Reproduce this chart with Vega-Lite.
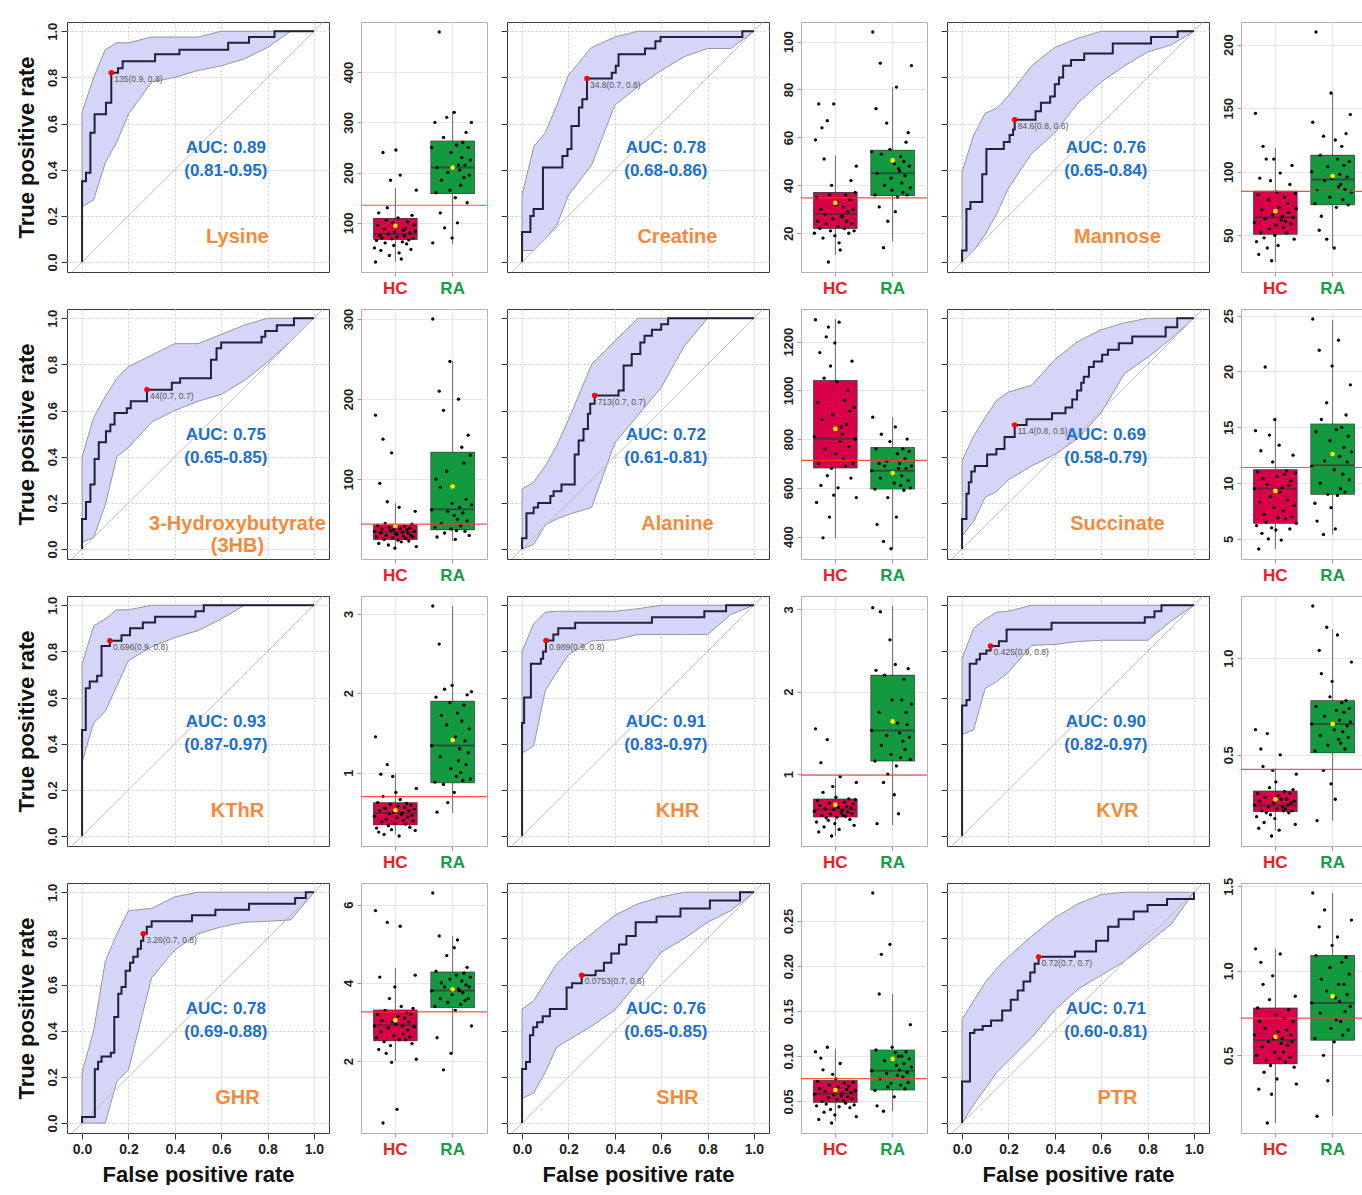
{
"$schema":"https://vega.github.io/schema/vega-lite/v6.json",
"padding":{"left":15,"top":21,"right":0,"bottom":0},
"background":"white",
"config":{"font":"Liberation Sans","view":{"stroke":"#444"},"axis":{"labelFont":"Liberation Sans","titleFont":"Liberation Sans","domain":false},"text":{"font":"Liberation Sans"}},
"spacing":11,
"data":{"values":[
{"p":1,"x":0,"y":0},{"p":1,"x":0,"y":0.35},{"p":1,"x":0.017,"y":0.387},{"p":1,"x":0.036,"y":0.56},{"p":1,"x":0.054,"y":0.64},{"p":1,"x":0.103,"y":0.69},{"p":1,"x":0.126,"y":0.82},{"p":1,"x":0.155,"y":0.84},{"p":1,"x":0.175,"y":0.87},{"p":1,"x":0.315,"y":0.9},{"p":1,"x":0.42,"y":0.92},{"p":1,"x":0.63,"y":0.95},{"p":1,"x":0.72,"y":0.975},{"p":1,"x":0.83,"y":1},{"p":1,"x":1,"y":1},
{"p":2,"x":0,"y":0},{"p":2,"x":0,"y":0.13},{"p":2,"x":0.036,"y":0.2},{"p":2,"x":0.05,"y":0.23},{"p":2,"x":0.09,"y":0.41},{"p":2,"x":0.174,"y":0.46},{"p":2,"x":0.196,"y":0.49},{"p":2,"x":0.213,"y":0.59},{"p":2,"x":0.245,"y":0.67},{"p":2,"x":0.26,"y":0.705},{"p":2,"x":0.28,"y":0.795},{"p":2,"x":0.387,"y":0.82},{"p":2,"x":0.404,"y":0.85},{"p":2,"x":0.416,"y":0.9},{"p":2,"x":0.53,"y":0.925},{"p":2,"x":0.575,"y":0.957},{"p":2,"x":0.597,"y":0.975},{"p":2,"x":0.95,"y":1},{"p":2,"x":1,"y":1},
{"p":3,"x":0,"y":0},{"p":3,"x":0,"y":0.05},{"p":3,"x":0.019,"y":0.23},{"p":3,"x":0.036,"y":0.26},{"p":3,"x":0.087,"y":0.38},{"p":3,"x":0.105,"y":0.49},{"p":3,"x":0.18,"y":0.52},{"p":3,"x":0.205,"y":0.55},{"p":3,"x":0.22,"y":0.574},{"p":3,"x":0.227,"y":0.617},{"p":3,"x":0.317,"y":0.653},{"p":3,"x":0.34,"y":0.69},{"p":3,"x":0.38,"y":0.717},{"p":3,"x":0.4,"y":0.77},{"p":3,"x":0.418,"y":0.8},{"p":3,"x":0.436,"y":0.85},{"p":3,"x":0.47,"y":0.875},{"p":3,"x":0.527,"y":0.904},{"p":3,"x":0.65,"y":0.947},{"p":3,"x":0.815,"y":0.975},{"p":3,"x":0.93,"y":1},{"p":3,"x":1,"y":1},
{"p":4,"x":0,"y":0},{"p":4,"x":0,"y":0.13},{"p":4,"x":0.017,"y":0.204},{"p":4,"x":0.036,"y":0.28},{"p":4,"x":0.054,"y":0.39},{"p":4,"x":0.072,"y":0.463},{"p":4,"x":0.103,"y":0.51},{"p":4,"x":0.122,"y":0.54},{"p":4,"x":0.14,"y":0.59},{"p":4,"x":0.193,"y":0.61},{"p":4,"x":0.21,"y":0.64},{"p":4,"x":0.28,"y":0.69},{"p":4,"x":0.387,"y":0.72},{"p":4,"x":0.423,"y":0.74},{"p":4,"x":0.556,"y":0.82},{"p":4,"x":0.58,"y":0.87},{"p":4,"x":0.6,"y":0.895},{"p":4,"x":0.774,"y":0.92},{"p":4,"x":0.79,"y":0.945},{"p":4,"x":0.84,"y":0.97},{"p":4,"x":0.914,"y":1},{"p":4,"x":1,"y":1},
{"p":5,"x":0,"y":0},{"p":5,"x":0,"y":0.047},{"p":5,"x":0.019,"y":0.155},{"p":5,"x":0.05,"y":0.18},{"p":5,"x":0.069,"y":0.2},{"p":5,"x":0.122,"y":0.23},{"p":5,"x":0.136,"y":0.25},{"p":5,"x":0.17,"y":0.28},{"p":5,"x":0.227,"y":0.41},{"p":5,"x":0.244,"y":0.47},{"p":5,"x":0.265,"y":0.52},{"p":5,"x":0.284,"y":0.586},{"p":5,"x":0.294,"y":0.63},{"p":5,"x":0.313,"y":0.665},{"p":5,"x":0.416,"y":0.687},{"p":5,"x":0.438,"y":0.795},{"p":5,"x":0.473,"y":0.845},{"p":5,"x":0.51,"y":0.895},{"p":5,"x":0.528,"y":0.924},{"p":5,"x":0.56,"y":0.95},{"p":5,"x":0.6,"y":0.974},{"p":5,"x":0.63,"y":1},{"p":5,"x":1,"y":1},
{"p":6,"x":0,"y":0},{"p":6,"x":0,"y":0.13},{"p":6,"x":0.019,"y":0.24},{"p":6,"x":0.029,"y":0.29},{"p":6,"x":0.04,"y":0.336},{"p":6,"x":0.055,"y":0.36},{"p":6,"x":0.108,"y":0.41},{"p":6,"x":0.148,"y":0.433},{"p":6,"x":0.183,"y":0.486},{"p":6,"x":0.227,"y":0.538},{"p":6,"x":0.278,"y":0.562},{"p":6,"x":0.388,"y":0.588},{"p":6,"x":0.446,"y":0.613},{"p":6,"x":0.475,"y":0.648},{"p":6,"x":0.496,"y":0.687},{"p":6,"x":0.514,"y":0.72},{"p":6,"x":0.525,"y":0.746},{"p":6,"x":0.547,"y":0.789},{"p":6,"x":0.568,"y":0.813},{"p":6,"x":0.604,"y":0.842},{"p":6,"x":0.629,"y":0.864},{"p":6,"x":0.676,"y":0.892},{"p":6,"x":0.734,"y":0.921},{"p":6,"x":0.878,"y":0.961},{"p":6,"x":0.928,"y":1},{"p":6,"x":1,"y":1},
{"p":7,"x":0,"y":0},{"p":7,"x":0,"y":0.46},{"p":7,"x":0.016,"y":0.64},{"p":7,"x":0.033,"y":0.67},{"p":7,"x":0.065,"y":0.694},{"p":7,"x":0.084,"y":0.823},{"p":7,"x":0.12,"y":0.846},{"p":7,"x":0.17,"y":0.87},{"p":7,"x":0.207,"y":0.9},{"p":7,"x":0.262,"y":0.925},{"p":7,"x":0.315,"y":0.95},{"p":7,"x":0.489,"y":0.974},{"p":7,"x":0.525,"y":1},{"p":7,"x":1,"y":1},
{"p":8,"x":0,"y":0},{"p":8,"x":0,"y":0.49},{"p":8,"x":0.009,"y":0.6},{"p":8,"x":0.038,"y":0.746},{"p":8,"x":0.081,"y":0.768},{"p":8,"x":0.091,"y":0.8},{"p":8,"x":0.103,"y":0.847},{"p":8,"x":0.135,"y":0.873},{"p":8,"x":0.156,"y":0.9},{"p":8,"x":0.229,"y":0.924},{"p":8,"x":0.56,"y":0.948},{"p":8,"x":0.786,"y":0.974},{"p":8,"x":0.88,"y":1},{"p":8,"x":1,"y":1},
{"p":9,"x":0,"y":0},{"p":9,"x":0,"y":0.566},{"p":9,"x":0.019,"y":0.59},{"p":9,"x":0.033,"y":0.746},{"p":9,"x":0.062,"y":0.765},{"p":9,"x":0.077,"y":0.79},{"p":9,"x":0.105,"y":0.804},{"p":9,"x":0.123,"y":0.823},{"p":9,"x":0.159,"y":0.844},{"p":9,"x":0.192,"y":0.895},{"p":9,"x":0.386,"y":0.924},{"p":9,"x":0.788,"y":0.948},{"p":9,"x":0.83,"y":0.974},{"p":9,"x":0.86,"y":1},{"p":9,"x":1,"y":1},
{"p":10,"x":0,"y":0},{"p":10,"x":0,"y":0.026},{"p":10,"x":0.055,"y":0.233},{"p":10,"x":0.069,"y":0.266},{"p":10,"x":0.084,"y":0.288},{"p":10,"x":0.124,"y":0.305},{"p":10,"x":0.139,"y":0.46},{"p":10,"x":0.156,"y":0.56},{"p":10,"x":0.17,"y":0.59},{"p":10,"x":0.188,"y":0.66},{"p":10,"x":0.207,"y":0.694},{"p":10,"x":0.221,"y":0.72},{"p":10,"x":0.24,"y":0.755},{"p":10,"x":0.254,"y":0.79},{"p":10,"x":0.264,"y":0.82},{"p":10,"x":0.279,"y":0.85},{"p":10,"x":0.3,"y":0.874},{"p":10,"x":0.474,"y":0.9},{"p":10,"x":0.575,"y":0.924},{"p":10,"x":0.72,"y":0.95},{"p":10,"x":0.919,"y":0.975},{"p":10,"x":0.965,"y":1},{"p":10,"x":1,"y":1},
{"p":11,"x":0,"y":0},{"p":11,"x":0,"y":0.234},{"p":11,"x":0.017,"y":0.265},{"p":11,"x":0.034,"y":0.38},{"p":11,"x":0.048,"y":0.415},{"p":11,"x":0.065,"y":0.437},{"p":11,"x":0.089,"y":0.463},{"p":11,"x":0.12,"y":0.494},{"p":11,"x":0.192,"y":0.587},{"p":11,"x":0.216,"y":0.606},{"p":11,"x":0.257,"y":0.64},{"p":11,"x":0.317,"y":0.66},{"p":11,"x":0.353,"y":0.695},{"p":11,"x":0.385,"y":0.735},{"p":11,"x":0.418,"y":0.774},{"p":11,"x":0.45,"y":0.81},{"p":11,"x":0.49,"y":0.87},{"p":11,"x":0.58,"y":0.895},{"p":11,"x":0.683,"y":0.93},{"p":11,"x":0.81,"y":0.964},{"p":11,"x":0.94,"y":1},{"p":11,"x":1,"y":1},
{"p":12,"x":0,"y":0},{"p":12,"x":0,"y":0.18},{"p":12,"x":0.034,"y":0.39},{"p":12,"x":0.053,"y":0.404},{"p":12,"x":0.089,"y":0.42},{"p":12,"x":0.125,"y":0.444},{"p":12,"x":0.173,"y":0.488},{"p":12,"x":0.21,"y":0.534},{"p":12,"x":0.24,"y":0.574},{"p":12,"x":0.265,"y":0.613},{"p":12,"x":0.294,"y":0.652},{"p":12,"x":0.313,"y":0.69},{"p":12,"x":0.33,"y":0.72},{"p":12,"x":0.487,"y":0.743},{"p":12,"x":0.578,"y":0.79},{"p":12,"x":0.63,"y":0.85},{"p":12,"x":0.675,"y":0.883},{"p":12,"x":0.74,"y":0.916},{"p":12,"x":0.8,"y":0.945},{"p":12,"x":0.884,"y":0.971},{"p":12,"x":1,"y":1},
{"p":1,"x":0,"lo":0.24,"hi":0.65},{"p":1,"x":0.05,"lo":0.27,"hi":0.8},{"p":1,"x":0.1,"lo":0.43,"hi":0.92},{"p":1,"x":0.15,"lo":0.52,"hi":0.95},{"p":1,"x":0.2,"lo":0.64,"hi":0.95},{"p":1,"x":0.3,"lo":0.78,"hi":0.975},{"p":1,"x":0.4,"lo":0.8,"hi":0.975},{"p":1,"x":0.5,"lo":0.83,"hi":0.975},{"p":1,"x":0.6,"lo":0.85,"hi":1},{"p":1,"x":0.7,"lo":0.88,"hi":1},{"p":1,"x":0.8,"lo":0.93,"hi":1},{"p":1,"x":0.9,"lo":1,"hi":1},{"p":1,"x":1,"lo":1,"hi":1},
{"p":2,"x":0,"lo":0.05,"hi":0.29},{"p":2,"x":0.05,"lo":0.05,"hi":0.5},{"p":2,"x":0.1,"lo":0.1,"hi":0.56},{"p":2,"x":0.15,"lo":0.16,"hi":0.68},{"p":2,"x":0.2,"lo":0.29,"hi":0.81},{"p":2,"x":0.3,"lo":0.42,"hi":0.93},{"p":2,"x":0.4,"lo":0.68,"hi":0.975},{"p":2,"x":0.5,"lo":0.76,"hi":1},{"p":2,"x":0.6,"lo":0.83,"hi":1},{"p":2,"x":0.7,"lo":0.89,"hi":1},{"p":2,"x":0.8,"lo":0.925,"hi":1},{"p":2,"x":0.9,"lo":0.925,"hi":1},{"p":2,"x":1,"lo":1,"hi":1},
{"p":3,"x":0,"lo":0,"hi":0.39},{"p":3,"x":0.05,"lo":0.05,"hi":0.55},{"p":3,"x":0.1,"lo":0.12,"hi":0.645},{"p":3,"x":0.15,"lo":0.21,"hi":0.667},{"p":3,"x":0.2,"lo":0.32,"hi":0.72},{"p":3,"x":0.3,"lo":0.47,"hi":0.85},{"p":3,"x":0.4,"lo":0.56,"hi":0.93},{"p":3,"x":0.5,"lo":0.69,"hi":0.97},{"p":3,"x":0.6,"lo":0.78,"hi":1},{"p":3,"x":0.7,"lo":0.85,"hi":1},{"p":3,"x":0.8,"lo":0.91,"hi":1},{"p":3,"x":0.9,"lo":0.94,"hi":1},{"p":3,"x":1,"lo":1,"hi":1},
{"p":4,"x":0,"lo":0.03,"hi":0.4},{"p":4,"x":0.05,"lo":0.05,"hi":0.57},{"p":4,"x":0.1,"lo":0.19,"hi":0.66},{"p":4,"x":0.15,"lo":0.4,"hi":0.74},{"p":4,"x":0.2,"lo":0.44,"hi":0.79},{"p":4,"x":0.3,"lo":0.55,"hi":0.84},{"p":4,"x":0.4,"lo":0.6,"hi":0.89},{"p":4,"x":0.5,"lo":0.64,"hi":0.89},{"p":4,"x":0.6,"lo":0.67,"hi":0.93},{"p":4,"x":0.7,"lo":0.73,"hi":0.97},{"p":4,"x":0.8,"lo":0.81,"hi":1},{"p":4,"x":0.9,"lo":0.9,"hi":1},{"p":4,"x":1,"lo":1,"hi":1},
{"p":5,"x":0,"lo":0,"hi":0.26},{"p":5,"x":0.05,"lo":0.02,"hi":0.29},{"p":5,"x":0.1,"lo":0.105,"hi":0.36},{"p":5,"x":0.15,"lo":0.13,"hi":0.45},{"p":5,"x":0.2,"lo":0.15,"hi":0.56},{"p":5,"x":0.3,"lo":0.18,"hi":0.8},{"p":5,"x":0.4,"lo":0.46,"hi":0.9},{"p":5,"x":0.5,"lo":0.58,"hi":1},{"p":5,"x":0.6,"lo":0.7,"hi":1},{"p":5,"x":0.7,"lo":0.88,"hi":1},{"p":5,"x":0.8,"lo":1,"hi":1},{"p":5,"x":0.9,"lo":1,"hi":1},{"p":5,"x":1,"lo":1,"hi":1},
{"p":6,"x":0,"lo":0.057,"hi":0.383},{"p":6,"x":0.05,"lo":0.12,"hi":0.49},{"p":6,"x":0.1,"lo":0.225,"hi":0.57},{"p":6,"x":0.15,"lo":0.25,"hi":0.645},{"p":6,"x":0.2,"lo":0.3,"hi":0.68},{"p":6,"x":0.3,"lo":0.36,"hi":0.71},{"p":6,"x":0.4,"lo":0.41,"hi":0.82},{"p":6,"x":0.5,"lo":0.48,"hi":0.9},{"p":6,"x":0.6,"lo":0.59,"hi":0.95},{"p":6,"x":0.7,"lo":0.76,"hi":0.98},{"p":6,"x":0.8,"lo":0.83,"hi":1},{"p":6,"x":0.9,"lo":0.91,"hi":1},{"p":6,"x":1,"lo":1,"hi":1},
{"p":7,"x":0,"lo":0.32,"hi":0.745},{"p":7,"x":0.05,"lo":0.49,"hi":0.91},{"p":7,"x":0.1,"lo":0.54,"hi":0.94},{"p":7,"x":0.15,"lo":0.65,"hi":0.98},{"p":7,"x":0.2,"lo":0.76,"hi":0.98},{"p":7,"x":0.3,"lo":0.82,"hi":1},{"p":7,"x":0.4,"lo":0.86,"hi":1},{"p":7,"x":0.5,"lo":0.89,"hi":1},{"p":7,"x":0.6,"lo":0.94,"hi":1},{"p":7,"x":0.7,"lo":1,"hi":1},{"p":7,"x":0.8,"lo":1,"hi":1},{"p":7,"x":0.9,"lo":1,"hi":1},{"p":7,"x":1,"lo":1,"hi":1},
{"p":8,"x":0,"lo":0.36,"hi":0.8},{"p":8,"x":0.05,"lo":0.39,"hi":0.92},{"p":8,"x":0.1,"lo":0.63,"hi":0.97},{"p":8,"x":0.15,"lo":0.71,"hi":0.974},{"p":8,"x":0.2,"lo":0.786,"hi":0.974},{"p":8,"x":0.3,"lo":0.845,"hi":0.974},{"p":8,"x":0.4,"lo":0.85,"hi":0.974},{"p":8,"x":0.5,"lo":0.873,"hi":0.985},{"p":8,"x":0.6,"lo":0.873,"hi":1},{"p":8,"x":0.7,"lo":0.873,"hi":1},{"p":8,"x":0.8,"lo":0.873,"hi":1},{"p":8,"x":0.9,"lo":0.96,"hi":1},{"p":8,"x":1,"lo":1,"hi":1},
{"p":9,"x":0,"lo":0.44,"hi":0.77},{"p":9,"x":0.05,"lo":0.46,"hi":0.9},{"p":9,"x":0.1,"lo":0.64,"hi":0.94},{"p":9,"x":0.15,"lo":0.67,"hi":0.97},{"p":9,"x":0.2,"lo":0.71,"hi":0.974},{"p":9,"x":0.3,"lo":0.826,"hi":1},{"p":9,"x":0.4,"lo":0.83,"hi":1},{"p":9,"x":0.5,"lo":0.843,"hi":1},{"p":9,"x":0.6,"lo":0.848,"hi":1},{"p":9,"x":0.7,"lo":0.848,"hi":1},{"p":9,"x":0.8,"lo":0.848,"hi":1},{"p":9,"x":0.9,"lo":0.93,"hi":1},{"p":9,"x":1,"lo":1,"hi":1},
{"p":10,"x":0,"lo":0,"hi":0.22},{"p":10,"x":0.05,"lo":0,"hi":0.4},{"p":10,"x":0.1,"lo":0,"hi":0.7},{"p":10,"x":0.15,"lo":0.18,"hi":0.82},{"p":10,"x":0.2,"lo":0.23,"hi":0.92},{"p":10,"x":0.3,"lo":0.63,"hi":0.93},{"p":10,"x":0.4,"lo":0.75,"hi":0.98},{"p":10,"x":0.5,"lo":0.82,"hi":1},{"p":10,"x":0.6,"lo":0.85,"hi":1},{"p":10,"x":0.7,"lo":0.87,"hi":1},{"p":10,"x":0.8,"lo":0.874,"hi":1},{"p":10,"x":0.9,"lo":0.88,"hi":1},{"p":10,"x":1,"lo":1,"hi":1},
{"p":11,"x":0,"lo":0.107,"hi":0.494},{"p":11,"x":0.05,"lo":0.13,"hi":0.53},{"p":11,"x":0.1,"lo":0.22,"hi":0.61},{"p":11,"x":0.15,"lo":0.33,"hi":0.69},{"p":11,"x":0.2,"lo":0.36,"hi":0.74},{"p":11,"x":0.3,"lo":0.42,"hi":0.82},{"p":11,"x":0.4,"lo":0.49,"hi":0.9},{"p":11,"x":0.5,"lo":0.61,"hi":0.95},{"p":11,"x":0.6,"lo":0.74,"hi":0.98},{"p":11,"x":0.7,"lo":0.8,"hi":1},{"p":11,"x":0.8,"lo":0.87,"hi":1},{"p":11,"x":0.9,"lo":0.92,"hi":1},{"p":11,"x":1,"lo":1,"hi":1},
{"p":12,"x":0,"lo":0,"hi":0.45},{"p":12,"x":0.05,"lo":0.08,"hi":0.53},{"p":12,"x":0.1,"lo":0.15,"hi":0.61},{"p":12,"x":0.15,"lo":0.22,"hi":0.67},{"p":12,"x":0.2,"lo":0.27,"hi":0.72},{"p":12,"x":0.3,"lo":0.37,"hi":0.81},{"p":12,"x":0.4,"lo":0.49,"hi":0.89},{"p":12,"x":0.5,"lo":0.58,"hi":0.95},{"p":12,"x":0.6,"lo":0.64,"hi":0.99},{"p":12,"x":0.7,"lo":0.7,"hi":1},{"p":12,"x":0.8,"lo":0.78,"hi":1},{"p":12,"x":0.9,"lo":0.86,"hi":1},{"p":12,"x":1,"lo":1,"hi":1},
{"p":1,"fx":0.126,"fy":0.82,"t":135,"lab":"135(0.9, 0.8)","auc":"AUC: 0.89|(0.81-0.95)","nm":"Lysine"},
{"p":2,"fx":0.28,"fy":0.795,"t":34.8,"lab":"34.8(0.7, 0.8)","auc":"AUC: 0.78|(0.68-0.86)","nm":"Creatine"},
{"p":3,"fx":0.227,"fy":0.617,"t":84.6,"lab":"84.6(0.8, 0.6)","auc":"AUC: 0.76|(0.65-0.84)","nm":"Mannose"},
{"p":4,"fx":0.28,"fy":0.69,"t":44,"lab":"44(0.7, 0.7)","auc":"AUC: 0.75|(0.65-0.85)","nm":"3-Hydroxybutyrate|(3HB)"},
{"p":5,"fx":0.313,"fy":0.665,"t":713,"lab":"713(0.7, 0.7)","auc":"AUC: 0.72|(0.61-0.81)","nm":"Alanine"},
{"p":6,"fx":0.227,"fy":0.538,"t":11.4,"lab":"11.4(0.8, 0.5)","auc":"AUC: 0.69|(0.58-0.79)","nm":"Succinate"},
{"p":7,"fx":0.12,"fy":0.846,"t":0.696,"lab":"0.696(0.9, 0.8)","auc":"AUC: 0.93|(0.87-0.97)","nm":"KThR"},
{"p":8,"fx":0.103,"fy":0.847,"t":0.989,"lab":"0.989(0.9, 0.8)","auc":"AUC: 0.91|(0.83-0.97)","nm":"KHR"},
{"p":9,"fx":0.123,"fy":0.823,"t":0.425,"lab":"0.425(0.9, 0.8)","auc":"AUC: 0.90|(0.82-0.97)","nm":"KVR"},
{"p":10,"fx":0.264,"fy":0.82,"t":3.26,"lab":"3.26(0.7, 0.8)","auc":"AUC: 0.78|(0.69-0.88)","nm":"GHR"},
{"p":11,"fx":0.257,"fy":0.64,"t":0.0753,"lab":"0.0753(0.7, 0.6)","auc":"AUC: 0.76|(0.65-0.85)","nm":"SHR"},
{"p":12,"fx":0.33,"fy":0.72,"t":0.72,"lab":"0.72(0.7, 0.7)","auc":"AUC: 0.71|(0.60-0.81)","nm":"PTR"},
{"p":1,"g":"HC","w1":23,"q1":67,"md":78,"q3":109,"w2":169,"mn":94},{"p":1,"g":"RA","w1":57,"q1":158,"md":210,"q3":263,"w2":322,"mn":210},
{"p":2,"g":"HC","w1":11,"q1":22,"md":28,"q3":37,"w2":52.5,"mn":32.7},{"p":2,"g":"RA","w1":16.5,"q1":35.7,"md":45,"q3":54.7,"w2":81,"mn":50.4},
{"p":3,"g":"HC","w1":29,"q1":50.8,"md":64,"q3":84.7,"w2":119,"mn":69},{"p":3,"g":"RA","w1":40,"q1":74,"md":94,"q3":113,"w2":162,"mn":96.6},
{"p":4,"g":"HC","w1":13,"q1":25,"md":34,"q3":43,"w2":70,"mn":41.7},{"p":4,"g":"RA","w1":23,"q1":37,"md":62.5,"q3":134,"w2":247,"mn":91},
{"p":5,"g":"HC","w1":393,"q1":681,"md":802,"q3":1041,"w2":1293,"mn":842},{"p":5,"g":"RA","w1":349,"q1":595,"md":670,"q3":766,"w2":890,"mn":661},
{"p":6,"g":"HC","w1":4.1,"q1":6.4,"md":9.5,"q3":11.2,"w2":15.7,"mn":9.3},{"p":6,"g":"RA","w1":5.4,"q1":9,"md":11.6,"q3":15.3,"w2":24.6,"mn":12.6},
{"p":7,"g":"HC","w1":0.22,"q1":0.34,"md":0.49,"q3":0.62,"w2":0.99,"mn":0.525},{"p":7,"g":"RA","w1":0.49,"q1":0.87,"md":1.34,"q3":1.9,"w2":3.1,"mn":1.41},
{"p":8,"g":"HC","w1":0.25,"q1":0.48,"md":0.57,"q3":0.7,"w2":0.95,"mn":0.63},{"p":8,"g":"RA","w1":0.38,"q1":1.16,"md":1.53,"q3":2.2,"w2":3.04,"mn":1.64},
{"p":9,"g":"HC","w1":0.108,"q1":0.207,"md":0.238,"q3":0.313,"w2":0.43,"mn":0.27},{"p":9,"g":"RA","w1":0.16,"q1":0.51,"md":0.66,"q3":0.78,"w2":1.15,"mn":0.66},
{"p":10,"g":"HC","w1":2,"q1":2.52,"md":2.92,"q3":3.31,"w2":4.39,"mn":3.05},{"p":10,"g":"RA","w1":2.2,"q1":3.37,"md":3.81,"q3":4.28,"w2":5.2,"mn":3.84},
{"p":11,"g":"HC","w1":0.0285,"q1":0.049,"md":0.0585,"q3":0.073,"w2":0.1085,"mn":0.0626},{"p":11,"g":"RA","w1":0.039,"q1":0.0626,"md":0.084,"q3":0.107,"w2":0.169,"mn":0.097},
{"p":12,"g":"HC","w1":0.1,"q1":0.45,"md":0.59,"q3":0.78,"w2":1.13,"mn":0.61},{"p":12,"g":"RA","w1":0.14,"q1":0.59,"md":0.81,"q3":1.09,"w2":1.46,"mn":0.85},
{"p":1,"g":"HC","i":0,"v":50},{"p":1,"g":"HC","i":1,"v":22},{"p":1,"g":"HC","i":2,"v":65},{"p":1,"g":"HC","i":3,"v":95},{"p":1,"g":"HC","i":4,"v":120},{"p":1,"g":"HC","i":5,"v":75},{"p":1,"g":"HC","i":6,"v":45},{"p":1,"g":"HC","i":7,"v":70},{"p":1,"g":"HC","i":8,"v":240},{"p":1,"g":"HC","i":9,"v":88},{"p":1,"g":"HC","i":10,"v":60},{"p":1,"g":"HC","i":11,"v":105},{"p":1,"g":"HC","i":12,"v":130},{"p":1,"g":"HC","i":13,"v":78},{"p":1,"g":"HC","i":14,"v":35},{"p":1,"g":"HC","i":15,"v":185},{"p":1,"g":"HC","i":16,"v":68},{"p":1,"g":"HC","i":17,"v":100},{"p":1,"g":"HC","i":18,"v":55},{"p":1,"g":"HC","i":19,"v":82},{"p":1,"g":"HC","i":20,"v":245},{"p":1,"g":"HC","i":21,"v":72},{"p":1,"g":"HC","i":22,"v":110},{"p":1,"g":"HC","i":23,"v":40},{"p":1,"g":"HC","i":24,"v":195},{"p":1,"g":"HC","i":25,"v":28},
{"p":1,"g":"RA","i":0,"v":250},{"p":1,"g":"RA","i":1,"v":60},{"p":1,"g":"RA","i":3,"v":300},{"p":1,"g":"RA","i":4,"v":160},{"p":1,"g":"RA","i":5,"v":210},{"p":1,"g":"RA","i":7,"v":480},{"p":1,"g":"RA","i":8,"v":120},{"p":1,"g":"RA","i":9,"v":185},{"p":1,"g":"RA","i":11,"v":270},{"p":1,"g":"RA","i":12,"v":90},{"p":1,"g":"RA","i":14,"v":310},{"p":1,"g":"RA","i":15,"v":200},{"p":1,"g":"RA","i":17,"v":165},{"p":1,"g":"RA","i":18,"v":240},{"p":1,"g":"RA","i":19,"v":70},{"p":1,"g":"RA","i":21,"v":320},{"p":1,"g":"RA","i":22,"v":150},{"p":1,"g":"RA","i":23,"v":255},{"p":1,"g":"RA","i":24,"v":100},{"p":1,"g":"RA","i":25,"v":215},
{"p":2,"g":"HC","i":0,"v":20},{"p":2,"g":"HC","i":1,"v":59},{"p":2,"g":"HC","i":2,"v":35},{"p":2,"g":"HC","i":3,"v":25},{"p":2,"g":"HC","i":4,"v":74},{"p":2,"g":"HC","i":5,"v":22},{"p":2,"g":"HC","i":6,"v":30},{"p":2,"g":"HC","i":7,"v":64},{"p":2,"g":"HC","i":8,"v":18},{"p":2,"g":"HC","i":9,"v":51},{"p":2,"g":"HC","i":10,"v":28},{"p":2,"g":"HC","i":11,"v":24},{"p":2,"g":"HC","i":12,"v":67},{"p":2,"g":"HC","i":13,"v":8},{"p":2,"g":"HC","i":14,"v":36},{"p":2,"g":"HC","i":15,"v":21},{"p":2,"g":"HC","i":16,"v":40},{"p":2,"g":"HC","i":17,"v":26},{"p":2,"g":"HC","i":18,"v":74},{"p":2,"g":"HC","i":19,"v":19},{"p":2,"g":"HC","i":20,"v":32},{"p":2,"g":"HC","i":21,"v":33},{"p":2,"g":"HC","i":22,"v":23},{"p":2,"g":"HC","i":23,"v":16},{"p":2,"g":"HC","i":24,"v":13},{"p":2,"g":"HC","i":25,"v":27},
{"p":2,"g":"RA","i":0,"v":54},{"p":2,"g":"RA","i":1,"v":104},{"p":2,"g":"RA","i":3,"v":36},{"p":2,"g":"RA","i":4,"v":72},{"p":2,"g":"RA","i":5,"v":45},{"p":2,"g":"RA","i":7,"v":31},{"p":2,"g":"RA","i":8,"v":91},{"p":2,"g":"RA","i":9,"v":53},{"p":2,"g":"RA","i":11,"v":14},{"p":2,"g":"RA","i":12,"v":40},{"p":2,"g":"RA","i":14,"v":66},{"p":2,"g":"RA","i":15,"v":25},{"p":2,"g":"RA","i":17,"v":55},{"p":2,"g":"RA","i":18,"v":43},{"p":2,"g":"RA","i":19,"v":38},{"p":2,"g":"RA","i":21,"v":49},{"p":2,"g":"RA","i":22,"v":29},{"p":2,"g":"RA","i":23,"v":81},{"p":2,"g":"RA","i":24,"v":35},{"p":2,"g":"RA","i":25,"v":47},
{"p":3,"g":"HC","i":0,"v":60},{"p":3,"g":"HC","i":1,"v":146},{"p":3,"g":"HC","i":2,"v":45},{"p":3,"g":"HC","i":3,"v":82},{"p":3,"g":"HC","i":4,"v":35},{"p":3,"g":"HC","i":5,"v":95},{"p":3,"g":"HC","i":6,"v":52},{"p":3,"g":"HC","i":7,"v":70},{"p":3,"g":"HC","i":8,"v":120},{"p":3,"g":"HC","i":9,"v":48},{"p":3,"g":"HC","i":10,"v":63},{"p":3,"g":"HC","i":11,"v":110},{"p":3,"g":"HC","i":12,"v":40},{"p":3,"g":"HC","i":13,"v":78},{"p":3,"g":"HC","i":14,"v":55},{"p":3,"g":"HC","i":15,"v":93},{"p":3,"g":"HC","i":16,"v":30},{"p":3,"g":"HC","i":17,"v":66},{"p":3,"g":"HC","i":18,"v":110},{"p":3,"g":"HC","i":19,"v":50},{"p":3,"g":"HC","i":20,"v":58},{"p":3,"g":"HC","i":21,"v":84},{"p":3,"g":"HC","i":22,"v":42},{"p":3,"g":"HC","i":23,"v":72},{"p":3,"g":"HC","i":24,"v":99},{"p":3,"g":"HC","i":25,"v":62},
{"p":3,"g":"RA","i":0,"v":100},{"p":3,"g":"RA","i":1,"v":139},{"p":3,"g":"RA","i":3,"v":75},{"p":3,"g":"RA","i":4,"v":210},{"p":3,"g":"RA","i":5,"v":85},{"p":3,"g":"RA","i":7,"v":54},{"p":3,"g":"RA","i":8,"v":113},{"p":3,"g":"RA","i":9,"v":65},{"p":3,"g":"RA","i":11,"v":128},{"p":3,"g":"RA","i":12,"v":93},{"p":3,"g":"RA","i":14,"v":47},{"p":3,"g":"RA","i":15,"v":104},{"p":3,"g":"RA","i":17,"v":80},{"p":3,"g":"RA","i":18,"v":162},{"p":3,"g":"RA","i":19,"v":95},{"p":3,"g":"RA","i":21,"v":40},{"p":3,"g":"RA","i":22,"v":125},{"p":3,"g":"RA","i":23,"v":72},{"p":3,"g":"RA","i":24,"v":110},{"p":3,"g":"RA","i":25,"v":88},
{"p":4,"g":"HC","i":0,"v":35},{"p":4,"g":"HC","i":1,"v":180},{"p":4,"g":"HC","i":2,"v":28},{"p":4,"g":"HC","i":3,"v":42},{"p":4,"g":"HC","i":4,"v":20},{"p":4,"g":"HC","i":5,"v":95},{"p":4,"g":"HC","i":6,"v":33},{"p":4,"g":"HC","i":7,"v":38},{"p":4,"g":"HC","i":8,"v":150},{"p":4,"g":"HC","i":9,"v":25},{"p":4,"g":"HC","i":10,"v":45},{"p":4,"g":"HC","i":11,"v":30},{"p":4,"g":"HC","i":12,"v":72},{"p":4,"g":"HC","i":13,"v":18},{"p":4,"g":"HC","i":14,"v":40},{"p":4,"g":"HC","i":15,"v":36},{"p":4,"g":"HC","i":16,"v":133},{"p":4,"g":"HC","i":17,"v":27},{"p":4,"g":"HC","i":18,"v":37},{"p":4,"g":"HC","i":19,"v":14},{"p":4,"g":"HC","i":20,"v":32},{"p":4,"g":"HC","i":21,"v":31},{"p":4,"g":"HC","i":22,"v":24},{"p":4,"g":"HC","i":23,"v":65},{"p":4,"g":"HC","i":24,"v":38},{"p":4,"g":"HC","i":25,"v":22},
{"p":4,"g":"RA","i":0,"v":62},{"p":4,"g":"RA","i":1,"v":300},{"p":4,"g":"RA","i":3,"v":40},{"p":4,"g":"RA","i":4,"v":100},{"p":4,"g":"RA","i":5,"v":28},{"p":4,"g":"RA","i":7,"v":210},{"p":4,"g":"RA","i":8,"v":90},{"p":4,"g":"RA","i":9,"v":45},{"p":4,"g":"RA","i":11,"v":186},{"p":4,"g":"RA","i":12,"v":33},{"p":4,"g":"RA","i":14,"v":110},{"p":4,"g":"RA","i":15,"v":60},{"p":4,"g":"RA","i":17,"v":247},{"p":4,"g":"RA","i":18,"v":38},{"p":4,"g":"RA","i":19,"v":70},{"p":4,"g":"RA","i":21,"v":55},{"p":4,"g":"RA","i":22,"v":25},{"p":4,"g":"RA","i":23,"v":36},{"p":4,"g":"RA","i":24,"v":50},{"p":4,"g":"RA","i":25,"v":200},
{"p":5,"g":"HC","i":0,"v":810},{"p":5,"g":"HC","i":1,"v":1290},{"p":5,"g":"HC","i":2,"v":540},{"p":5,"g":"HC","i":3,"v":950},{"p":5,"g":"HC","i":4,"v":700},{"p":5,"g":"HC","i":5,"v":1155},{"p":5,"g":"HC","i":6,"v":610},{"p":5,"g":"HC","i":7,"v":880},{"p":5,"g":"HC","i":8,"v":395},{"p":5,"g":"HC","i":9,"v":1050},{"p":5,"g":"HC","i":10,"v":760},{"p":5,"g":"HC","i":11,"v":1220},{"p":5,"g":"HC","i":12,"v":650},{"p":5,"g":"HC","i":13,"v":1260},{"p":5,"g":"HC","i":14,"v":480},{"p":5,"g":"HC","i":15,"v":1100},{"p":5,"g":"HC","i":16,"v":680},{"p":5,"g":"HC","i":17,"v":900},{"p":5,"g":"HC","i":18,"v":570},{"p":5,"g":"HC","i":19,"v":1195},{"p":5,"g":"HC","i":20,"v":740},{"p":5,"g":"HC","i":21,"v":1035},{"p":5,"g":"HC","i":22,"v":600},{"p":5,"g":"HC","i":23,"v":1280},{"p":5,"g":"HC","i":24,"v":790},{"p":5,"g":"HC","i":25,"v":850},
{"p":5,"g":"RA","i":0,"v":670},{"p":5,"g":"RA","i":1,"v":890},{"p":5,"g":"RA","i":3,"v":595},{"p":5,"g":"RA","i":4,"v":760},{"p":5,"g":"RA","i":5,"v":450},{"p":5,"g":"RA","i":7,"v":700},{"p":5,"g":"RA","i":8,"v":640},{"p":5,"g":"RA","i":9,"v":820},{"p":5,"g":"RA","i":11,"v":380},{"p":5,"g":"RA","i":12,"v":690},{"p":5,"g":"RA","i":14,"v":710},{"p":5,"g":"RA","i":15,"v":560},{"p":5,"g":"RA","i":17,"v":790},{"p":5,"g":"RA","i":18,"v":350},{"p":5,"g":"RA","i":19,"v":660},{"p":5,"g":"RA","i":21,"v":620},{"p":5,"g":"RA","i":22,"v":850},{"p":5,"g":"RA","i":23,"v":480},{"p":5,"g":"RA","i":24,"v":740},{"p":5,"g":"RA","i":25,"v":680},
{"p":6,"g":"HC","i":0,"v":9.5},{"p":6,"g":"HC","i":1,"v":14.7},{"p":6,"g":"HC","i":2,"v":6.2},{"p":6,"g":"HC","i":3,"v":11},{"p":6,"g":"HC","i":4,"v":4.1},{"p":6,"g":"HC","i":5,"v":8.3},{"p":6,"g":"HC","i":6,"v":12.9},{"p":6,"g":"HC","i":7,"v":5.5},{"p":6,"g":"HC","i":8,"v":10.4},{"p":6,"g":"HC","i":9,"v":7.2},{"p":6,"g":"HC","i":10,"v":20.4},{"p":6,"g":"HC","i":11,"v":6.5},{"p":6,"g":"HC","i":12,"v":9.9},{"p":6,"g":"HC","i":13,"v":5},{"p":6,"g":"HC","i":14,"v":14.3},{"p":6,"g":"HC","i":15,"v":8.8},{"p":6,"g":"HC","i":16,"v":6},{"p":6,"g":"HC","i":17,"v":11.9},{"p":6,"g":"HC","i":18,"v":7.8},{"p":6,"g":"HC","i":19,"v":15.7},{"p":6,"g":"HC","i":20,"v":5.8},{"p":6,"g":"HC","i":21,"v":10.6},{"p":6,"g":"HC","i":22,"v":6.9},{"p":6,"g":"HC","i":23,"v":13.4},{"p":6,"g":"HC","i":24,"v":9.2},{"p":6,"g":"HC","i":25,"v":4.9},
{"p":6,"g":"RA","i":0,"v":11.5},{"p":6,"g":"RA","i":1,"v":24.7},{"p":6,"g":"RA","i":3,"v":8.2},{"p":6,"g":"RA","i":4,"v":14.6},{"p":6,"g":"RA","i":5,"v":6.6},{"p":6,"g":"RA","i":7,"v":21.9},{"p":6,"g":"RA","i":8,"v":10},{"p":6,"g":"RA","i":9,"v":15.7},{"p":6,"g":"RA","i":11,"v":5.4},{"p":6,"g":"RA","i":12,"v":12},{"p":6,"g":"RA","i":14,"v":17.2},{"p":6,"g":"RA","i":15,"v":9},{"p":6,"g":"RA","i":17,"v":13.8},{"p":6,"g":"RA","i":18,"v":7.8},{"p":6,"g":"RA","i":19,"v":20.5},{"p":6,"g":"RA","i":21,"v":11.2},{"p":6,"g":"RA","i":22,"v":5.9},{"p":6,"g":"RA","i":23,"v":14.8},{"p":6,"g":"RA","i":24,"v":8.9},{"p":6,"g":"RA","i":25,"v":22.8},
{"p":7,"g":"HC","i":0,"v":0.45},{"p":7,"g":"HC","i":1,"v":1.45},{"p":7,"g":"HC","i":2,"v":0.3},{"p":7,"g":"HC","i":3,"v":0.62},{"p":7,"g":"HC","i":4,"v":0.25},{"p":7,"g":"HC","i":5,"v":0.52},{"p":7,"g":"HC","i":6,"v":0.98},{"p":7,"g":"HC","i":7,"v":0.38},{"p":7,"g":"HC","i":8,"v":0.7},{"p":7,"g":"HC","i":9,"v":0.22},{"p":7,"g":"HC","i":10,"v":0.55},{"p":7,"g":"HC","i":11,"v":0.41},{"p":7,"g":"HC","i":12,"v":1.1},{"p":7,"g":"HC","i":13,"v":0.33},{"p":7,"g":"HC","i":14,"v":0.48},{"p":7,"g":"HC","i":15,"v":0.6},{"p":7,"g":"HC","i":16,"v":0.28},{"p":7,"g":"HC","i":17,"v":0.95},{"p":7,"g":"HC","i":18,"v":0.5},{"p":7,"g":"HC","i":19,"v":0.36},{"p":7,"g":"HC","i":20,"v":0.75},{"p":7,"g":"HC","i":21,"v":0.43},{"p":7,"g":"HC","i":22,"v":0.58},{"p":7,"g":"HC","i":23,"v":0.2},{"p":7,"g":"HC","i":24,"v":0.66},{"p":7,"g":"HC","i":25,"v":0.47},
{"p":7,"g":"RA","i":0,"v":1.34},{"p":7,"g":"RA","i":1,"v":3.1},{"p":7,"g":"RA","i":3,"v":0.88},{"p":7,"g":"RA","i":4,"v":1.95},{"p":7,"g":"RA","i":5,"v":0.5},{"p":7,"g":"RA","i":7,"v":2.62},{"p":7,"g":"RA","i":8,"v":1.2},{"p":7,"g":"RA","i":9,"v":1.72},{"p":7,"g":"RA","i":11,"v":0.85},{"p":7,"g":"RA","i":12,"v":2.05},{"p":7,"g":"RA","i":14,"v":1.6},{"p":7,"g":"RA","i":15,"v":0.62},{"p":7,"g":"RA","i":17,"v":1.88},{"p":7,"g":"RA","i":18,"v":1.05},{"p":7,"g":"RA","i":19,"v":2.1},{"p":7,"g":"RA","i":21,"v":0.75},{"p":7,"g":"RA","i":22,"v":1.45},{"p":7,"g":"RA","i":23,"v":0.95},{"p":7,"g":"RA","i":24,"v":1.75},{"p":7,"g":"RA","i":25,"v":1.15},
{"p":8,"g":"HC","i":0,"v":0.55},{"p":8,"g":"HC","i":1,"v":1.55},{"p":8,"g":"HC","i":2,"v":0.42},{"p":8,"g":"HC","i":3,"v":0.68},{"p":8,"g":"HC","i":4,"v":0.3},{"p":8,"g":"HC","i":5,"v":0.62},{"p":8,"g":"HC","i":6,"v":1.14},{"p":8,"g":"HC","i":7,"v":0.5},{"p":8,"g":"HC","i":8,"v":0.78},{"p":8,"g":"HC","i":9,"v":0.36},{"p":8,"g":"HC","i":10,"v":0.58},{"p":8,"g":"HC","i":11,"v":0.47},{"p":8,"g":"HC","i":12,"v":1.42},{"p":8,"g":"HC","i":13,"v":0.44},{"p":8,"g":"HC","i":14,"v":0.65},{"p":8,"g":"HC","i":15,"v":0.52},{"p":8,"g":"HC","i":16,"v":0.25},{"p":8,"g":"HC","i":17,"v":0.85},{"p":8,"g":"HC","i":18,"v":0.57},{"p":8,"g":"HC","i":19,"v":0.4},{"p":8,"g":"HC","i":20,"v":0.72},{"p":8,"g":"HC","i":21,"v":0.48},{"p":8,"g":"HC","i":22,"v":0.6},{"p":8,"g":"HC","i":23,"v":0.33},{"p":8,"g":"HC","i":24,"v":0.97},{"p":8,"g":"HC","i":25,"v":0.53},
{"p":8,"g":"RA","i":0,"v":1.53},{"p":8,"g":"RA","i":1,"v":3.02},{"p":8,"g":"RA","i":3,"v":1.16},{"p":8,"g":"RA","i":4,"v":2.26},{"p":8,"g":"RA","i":5,"v":0.4},{"p":8,"g":"RA","i":7,"v":1.75},{"p":8,"g":"RA","i":8,"v":2.97},{"p":8,"g":"RA","i":9,"v":1.35},{"p":8,"g":"RA","i":11,"v":0.9},{"p":8,"g":"RA","i":12,"v":2.2},{"p":8,"g":"RA","i":14,"v":1.47},{"p":8,"g":"RA","i":15,"v":1},{"p":8,"g":"RA","i":17,"v":2.63},{"p":8,"g":"RA","i":18,"v":1.24},{"p":8,"g":"RA","i":19,"v":1.9},{"p":8,"g":"RA","i":21,"v":0.75},{"p":8,"g":"RA","i":22,"v":2.33},{"p":8,"g":"RA","i":23,"v":1.1},{"p":8,"g":"RA","i":24,"v":1.62},{"p":8,"g":"RA","i":25,"v":0.52},
{"p":9,"g":"HC","i":0,"v":0.24},{"p":9,"g":"HC","i":1,"v":0.63},{"p":9,"g":"HC","i":2,"v":0.18},{"p":9,"g":"HC","i":3,"v":0.3},{"p":9,"g":"HC","i":4,"v":0.12},{"p":9,"g":"HC","i":5,"v":0.26},{"p":9,"g":"HC","i":6,"v":0.53},{"p":9,"g":"HC","i":7,"v":0.21},{"p":9,"g":"HC","i":8,"v":0.44},{"p":9,"g":"HC","i":9,"v":0.15},{"p":9,"g":"HC","i":10,"v":0.28},{"p":9,"g":"HC","i":11,"v":0.2},{"p":9,"g":"HC","i":12,"v":0.61},{"p":9,"g":"HC","i":13,"v":0.23},{"p":9,"g":"HC","i":14,"v":0.33},{"p":9,"g":"HC","i":15,"v":0.19},{"p":9,"g":"HC","i":16,"v":0.08},{"p":9,"g":"HC","i":17,"v":0.42},{"p":9,"g":"HC","i":18,"v":0.25},{"p":9,"g":"HC","i":19,"v":0.17},{"p":9,"g":"HC","i":20,"v":0.36},{"p":9,"g":"HC","i":21,"v":0.22},{"p":9,"g":"HC","i":22,"v":0.29},{"p":9,"g":"HC","i":23,"v":0.11},{"p":9,"g":"HC","i":24,"v":0.5},{"p":9,"g":"HC","i":25,"v":0.27},
{"p":9,"g":"RA","i":0,"v":0.66},{"p":9,"g":"RA","i":1,"v":1.27},{"p":9,"g":"RA","i":3,"v":0.52},{"p":9,"g":"RA","i":4,"v":0.75},{"p":9,"g":"RA","i":5,"v":0.16},{"p":9,"g":"RA","i":7,"v":1.04},{"p":9,"g":"RA","i":8,"v":0.6},{"p":9,"g":"RA","i":9,"v":0.92},{"p":9,"g":"RA","i":11,"v":0.42},{"p":9,"g":"RA","i":12,"v":0.7},{"p":9,"g":"RA","i":14,"v":1.16},{"p":9,"g":"RA","i":15,"v":0.55},{"p":9,"g":"RA","i":17,"v":0.8},{"p":9,"g":"RA","i":18,"v":0.35},{"p":9,"g":"RA","i":19,"v":0.88},{"p":9,"g":"RA","i":21,"v":0.63},{"p":9,"g":"RA","i":22,"v":0.27},{"p":9,"g":"RA","i":23,"v":0.73},{"p":9,"g":"RA","i":24,"v":1.12},{"p":9,"g":"RA","i":25,"v":0.58},
{"p":10,"g":"HC","i":0,"v":2.9},{"p":10,"g":"HC","i":1,"v":5.85},{"p":10,"g":"HC","i":2,"v":2.6},{"p":10,"g":"HC","i":3,"v":3.2},{"p":10,"g":"HC","i":4,"v":2.3},{"p":10,"g":"HC","i":5,"v":4.15},{"p":10,"g":"HC","i":6,"v":2.75},{"p":10,"g":"HC","i":7,"v":3.05},{"p":10,"g":"HC","i":8,"v":0.42},{"p":10,"g":"HC","i":9,"v":2.5},{"p":10,"g":"HC","i":10,"v":3.3},{"p":10,"g":"HC","i":11,"v":2.2},{"p":10,"g":"HC","i":12,"v":5.55},{"p":10,"g":"HC","i":13,"v":2.85},{"p":10,"g":"HC","i":14,"v":3.6},{"p":10,"g":"HC","i":15,"v":2.4},{"p":10,"g":"HC","i":16,"v":1.97},{"p":10,"g":"HC","i":17,"v":3},{"p":10,"g":"HC","i":18,"v":2.65},{"p":10,"g":"HC","i":19,"v":3.9},{"p":10,"g":"HC","i":20,"v":2.95},{"p":10,"g":"HC","i":21,"v":0.77},{"p":10,"g":"HC","i":22,"v":3.15},{"p":10,"g":"HC","i":23,"v":2.55},{"p":10,"g":"HC","i":24,"v":5.45},{"p":10,"g":"HC","i":25,"v":3.4},
{"p":10,"g":"RA","i":0,"v":3.8},{"p":10,"g":"RA","i":1,"v":6.3},{"p":10,"g":"RA","i":3,"v":3.4},{"p":10,"g":"RA","i":4,"v":4.3},{"p":10,"g":"RA","i":5,"v":2.6},{"p":10,"g":"RA","i":7,"v":5.2},{"p":10,"g":"RA","i":8,"v":3.6},{"p":10,"g":"RA","i":9,"v":4},{"p":10,"g":"RA","i":11,"v":1.78},{"p":10,"g":"RA","i":12,"v":3.9},{"p":10,"g":"RA","i":14,"v":4.7},{"p":10,"g":"RA","i":15,"v":3.5},{"p":10,"g":"RA","i":17,"v":4.1},{"p":10,"g":"RA","i":18,"v":2.2},{"p":10,"g":"RA","i":19,"v":3.7},{"p":10,"g":"RA","i":21,"v":4.9},{"p":10,"g":"RA","i":22,"v":3.3},{"p":10,"g":"RA","i":23,"v":4.2},{"p":10,"g":"RA","i":24,"v":5.1},{"p":10,"g":"RA","i":25,"v":3.85},
{"p":11,"g":"HC","i":0,"v":0.058},{"p":11,"g":"HC","i":1,"v":0.105},{"p":11,"g":"HC","i":2,"v":0.045},{"p":11,"g":"HC","i":3,"v":0.072},{"p":11,"g":"HC","i":4,"v":0.03},{"p":11,"g":"HC","i":5,"v":0.064},{"p":11,"g":"HC","i":6,"v":0.098},{"p":11,"g":"HC","i":7,"v":0.05},{"p":11,"g":"HC","i":8,"v":0.085},{"p":11,"g":"HC","i":9,"v":0.038},{"p":11,"g":"HC","i":10,"v":0.061},{"p":11,"g":"HC","i":11,"v":0.047},{"p":11,"g":"HC","i":12,"v":0.11},{"p":11,"g":"HC","i":13,"v":0.054},{"p":11,"g":"HC","i":14,"v":0.068},{"p":11,"g":"HC","i":15,"v":0.041},{"p":11,"g":"HC","i":16,"v":0.026},{"p":11,"g":"HC","i":17,"v":0.08},{"p":11,"g":"HC","i":18,"v":0.057},{"p":11,"g":"HC","i":19,"v":0.035},{"p":11,"g":"HC","i":20,"v":0.075},{"p":11,"g":"HC","i":21,"v":0.052},{"p":11,"g":"HC","i":22,"v":0.066},{"p":11,"g":"HC","i":23,"v":0.044},{"p":11,"g":"HC","i":24,"v":0.092},{"p":11,"g":"HC","i":25,"v":0.056},
{"p":11,"g":"RA","i":0,"v":0.084},{"p":11,"g":"RA","i":1,"v":0.281},{"p":11,"g":"RA","i":3,"v":0.062},{"p":11,"g":"RA","i":4,"v":0.107},{"p":11,"g":"RA","i":5,"v":0.045},{"p":11,"g":"RA","i":7,"v":0.169},{"p":11,"g":"RA","i":8,"v":0.075},{"p":11,"g":"RA","i":9,"v":0.213},{"p":11,"g":"RA","i":11,"v":0.039},{"p":11,"g":"RA","i":12,"v":0.095},{"p":11,"g":"RA","i":14,"v":0.081},{"p":11,"g":"RA","i":15,"v":0.066},{"p":11,"g":"RA","i":17,"v":0.224},{"p":11,"g":"RA","i":18,"v":0.07},{"p":11,"g":"RA","i":19,"v":0.11},{"p":11,"g":"RA","i":21,"v":0.055},{"p":11,"g":"RA","i":22,"v":0.104},{"p":11,"g":"RA","i":23,"v":0.09},{"p":11,"g":"RA","i":24,"v":0.079},{"p":11,"g":"RA","i":25,"v":0.1},
{"p":12,"g":"HC","i":0,"v":0.62},{"p":12,"g":"HC","i":1,"v":1.13},{"p":12,"g":"HC","i":2,"v":0.5},{"p":12,"g":"HC","i":3,"v":0.78},{"p":12,"g":"HC","i":4,"v":0.3},{"p":12,"g":"HC","i":5,"v":0.7},{"p":12,"g":"HC","i":6,"v":1.05},{"p":12,"g":"HC","i":7,"v":0.55},{"p":12,"g":"HC","i":8,"v":0.92},{"p":12,"g":"HC","i":9,"v":0.4},{"p":12,"g":"HC","i":10,"v":0.66},{"p":12,"g":"HC","i":11,"v":0.47},{"p":12,"g":"HC","i":12,"v":0.1},{"p":12,"g":"HC","i":13,"v":0.58},{"p":12,"g":"HC","i":14,"v":0.83},{"p":12,"g":"HC","i":15,"v":0.44},{"p":12,"g":"HC","i":16,"v":0.27},{"p":12,"g":"HC","i":17,"v":0.97},{"p":12,"g":"HC","i":18,"v":0.6},{"p":12,"g":"HC","i":19,"v":0.52},{"p":12,"g":"HC","i":20,"v":0.74},{"p":12,"g":"HC","i":21,"v":0.36},{"p":12,"g":"HC","i":22,"v":0.64},{"p":12,"g":"HC","i":23,"v":0.48},{"p":12,"g":"HC","i":24,"v":1.1},{"p":12,"g":"HC","i":25,"v":0.57},
{"p":12,"g":"RA","i":0,"v":0.81},{"p":12,"g":"RA","i":1,"v":1.46},{"p":12,"g":"RA","i":3,"v":0.6},{"p":12,"g":"RA","i":4,"v":1.09},{"p":12,"g":"RA","i":5,"v":0.14},{"p":12,"g":"RA","i":7,"v":1.26},{"p":12,"g":"RA","i":8,"v":0.75},{"p":12,"g":"RA","i":9,"v":0.95},{"p":12,"g":"RA","i":11,"v":0.5},{"p":12,"g":"RA","i":12,"v":1.36},{"p":12,"g":"RA","i":14,"v":0.88},{"p":12,"g":"RA","i":15,"v":0.35},{"p":12,"g":"RA","i":17,"v":1.02},{"p":12,"g":"RA","i":18,"v":0.66},{"p":12,"g":"RA","i":19,"v":1.15},{"p":12,"g":"RA","i":21,"v":0.58},{"p":12,"g":"RA","i":22,"v":0.84},{"p":12,"g":"RA","i":23,"v":0.71},{"p":12,"g":"RA","i":24,"v":1.2},{"p":12,"g":"RA","i":25,"v":0.92},
{"p":1,"g":"HC","i":26,"v":62},{"p":1,"g":"HC","i":27,"v":85},{"p":1,"g":"HC","i":28,"v":74},{"p":1,"g":"HC","i":29,"v":90},{"p":1,"g":"HC","i":30,"v":58},{"p":1,"g":"HC","i":31,"v":102},{"p":1,"g":"HC","i":32,"v":66},{"p":1,"g":"HC","i":33,"v":80},{"p":1,"g":"HC","i":34,"v":47},{"p":1,"g":"HC","i":35,"v":115},{"p":1,"g":"HC","i":36,"v":70},{"p":1,"g":"HC","i":37,"v":96},{"p":1,"g":"HC","i":38,"v":83},{"p":1,"g":"HC","i":39,"v":165},
{"p":1,"g":"RA","i":26,"v":205},{"p":1,"g":"RA","i":27,"v":175},{"p":1,"g":"RA","i":28,"v":230},{"p":1,"g":"RA","i":29,"v":260},{"p":1,"g":"RA","i":30,"v":190},{"p":1,"g":"RA","i":31,"v":215},{"p":1,"g":"RA","i":32,"v":280},{"p":1,"g":"RA","i":33,"v":140},{"p":1,"g":"RA","i":34,"v":250},{"p":1,"g":"RA","i":35,"v":195},{"p":1,"g":"RA","i":36,"v":225},{"p":1,"g":"RA","i":37,"v":300},
{"p":2,"g":"HC","i":26,"v":27},{"p":2,"g":"HC","i":27,"v":31},{"p":2,"g":"HC","i":28,"v":22},{"p":2,"g":"HC","i":29,"v":36},{"p":2,"g":"HC","i":30,"v":25},{"p":2,"g":"HC","i":31,"v":29},{"p":2,"g":"HC","i":32,"v":20},{"p":2,"g":"HC","i":33,"v":34},{"p":2,"g":"HC","i":34,"v":42},{"p":2,"g":"HC","i":35,"v":24},{"p":2,"g":"HC","i":36,"v":30},{"p":2,"g":"HC","i":37,"v":21},{"p":2,"g":"HC","i":38,"v":37},{"p":2,"g":"HC","i":39,"v":48},
{"p":2,"g":"RA","i":26,"v":46},{"p":2,"g":"RA","i":27,"v":52},{"p":2,"g":"RA","i":28,"v":41},{"p":2,"g":"RA","i":29,"v":37},{"p":2,"g":"RA","i":30,"v":50},{"p":2,"g":"RA","i":31,"v":44},{"p":2,"g":"RA","i":32,"v":58},{"p":2,"g":"RA","i":33,"v":36},{"p":2,"g":"RA","i":34,"v":62},{"p":2,"g":"RA","i":35,"v":48},{"p":2,"g":"RA","i":36,"v":39},{"p":2,"g":"RA","i":37,"v":90},
{"p":3,"g":"HC","i":26,"v":65},{"p":3,"g":"HC","i":27,"v":56},{"p":3,"g":"HC","i":28,"v":80},{"p":3,"g":"HC","i":29,"v":61},{"p":3,"g":"HC","i":30,"v":52},{"p":3,"g":"HC","i":31,"v":75},{"p":3,"g":"HC","i":32,"v":68},{"p":3,"g":"HC","i":33,"v":90},{"p":3,"g":"HC","i":34,"v":59},{"p":3,"g":"HC","i":35,"v":105},{"p":3,"g":"HC","i":36,"v":64},{"p":3,"g":"HC","i":37,"v":47},{"p":3,"g":"HC","i":38,"v":83},{"p":3,"g":"HC","i":39,"v":71},
{"p":3,"g":"RA","i":26,"v":98},{"p":3,"g":"RA","i":27,"v":90},{"p":3,"g":"RA","i":28,"v":120},{"p":3,"g":"RA","i":29,"v":78},{"p":3,"g":"RA","i":30,"v":105},{"p":3,"g":"RA","i":31,"v":86},{"p":3,"g":"RA","i":32,"v":130},{"p":3,"g":"RA","i":33,"v":96},{"p":3,"g":"RA","i":34,"v":74},{"p":3,"g":"RA","i":35,"v":108},{"p":3,"g":"RA","i":36,"v":145},{"p":3,"g":"RA","i":37,"v":84},
{"p":4,"g":"HC","i":26,"v":34},{"p":4,"g":"HC","i":27,"v":29},{"p":4,"g":"HC","i":28,"v":41},{"p":4,"g":"HC","i":29,"v":26},{"p":4,"g":"HC","i":30,"v":37},{"p":4,"g":"HC","i":31,"v":33},{"p":4,"g":"HC","i":32,"v":23},{"p":4,"g":"HC","i":33,"v":39},{"p":4,"g":"HC","i":34,"v":30},{"p":4,"g":"HC","i":35,"v":44},{"p":4,"g":"HC","i":36,"v":28},{"p":4,"g":"HC","i":37,"v":35},{"p":4,"g":"HC","i":38,"v":60},{"p":4,"g":"HC","i":39,"v":16},
{"p":4,"g":"RA","i":26,"v":65},{"p":4,"g":"RA","i":27,"v":42},{"p":4,"g":"RA","i":28,"v":140},{"p":4,"g":"RA","i":29,"v":58},{"p":4,"g":"RA","i":30,"v":120},{"p":4,"g":"RA","i":31,"v":35},{"p":4,"g":"RA","i":32,"v":75},{"p":4,"g":"RA","i":33,"v":48},{"p":4,"g":"RA","i":34,"v":155},{"p":4,"g":"RA","i":35,"v":30},{"p":4,"g":"RA","i":36,"v":130},{"p":4,"g":"RA","i":37,"v":68},
{"p":5,"g":"HC","i":26,"v":820},{"p":5,"g":"HC","i":27,"v":720},{"p":5,"g":"HC","i":28,"v":960},{"p":5,"g":"HC","i":29,"v":690},{"p":5,"g":"HC","i":30,"v":860},{"p":5,"g":"HC","i":31,"v":1000},{"p":5,"g":"HC","i":32,"v":770},{"p":5,"g":"HC","i":33,"v":915},{"p":5,"g":"HC","i":34,"v":640},{"p":5,"g":"HC","i":35,"v":1120},{"p":5,"g":"HC","i":36,"v":700},{"p":5,"g":"HC","i":37,"v":930},{"p":5,"g":"HC","i":38,"v":800},{"p":5,"g":"HC","i":39,"v":560},
{"p":5,"g":"RA","i":26,"v":700},{"p":5,"g":"RA","i":27,"v":610},{"p":5,"g":"RA","i":28,"v":650},{"p":5,"g":"RA","i":29,"v":760},{"p":5,"g":"RA","i":30,"v":590},{"p":5,"g":"RA","i":31,"v":720},{"p":5,"g":"RA","i":32,"v":680},{"p":5,"g":"RA","i":33,"v":800},{"p":5,"g":"RA","i":34,"v":630},{"p":5,"g":"RA","i":35,"v":750},{"p":5,"g":"RA","i":36,"v":600},{"p":5,"g":"RA","i":37,"v":690},
{"p":6,"g":"HC","i":26,"v":9.6},{"p":6,"g":"HC","i":27,"v":7.5},{"p":6,"g":"HC","i":28,"v":10.8},{"p":6,"g":"HC","i":29,"v":6.8},{"p":6,"g":"HC","i":30,"v":11.1},{"p":6,"g":"HC","i":31,"v":8.5},{"p":6,"g":"HC","i":32,"v":9.8},{"p":6,"g":"HC","i":33,"v":5.9},{"p":6,"g":"HC","i":34,"v":10.2},{"p":6,"g":"HC","i":35,"v":7},{"p":6,"g":"HC","i":36,"v":12.5},{"p":6,"g":"HC","i":37,"v":8},{"p":6,"g":"HC","i":38,"v":10.9},{"p":6,"g":"HC","i":39,"v":6.4},
{"p":6,"g":"RA","i":26,"v":12.4},{"p":6,"g":"RA","i":27,"v":9.5},{"p":6,"g":"RA","i":28,"v":15},{"p":6,"g":"RA","i":29,"v":10.8},{"p":6,"g":"RA","i":30,"v":13.2},{"p":6,"g":"RA","i":31,"v":9.2},{"p":6,"g":"RA","i":32,"v":16.1},{"p":6,"g":"RA","i":33,"v":11.9},{"p":6,"g":"RA","i":34,"v":14.2},{"p":6,"g":"RA","i":35,"v":10.3},{"p":6,"g":"RA","i":36,"v":18.8},{"p":6,"g":"RA","i":37,"v":12.8},
{"p":7,"g":"HC","i":26,"v":0.49},{"p":7,"g":"HC","i":27,"v":0.4},{"p":7,"g":"HC","i":28,"v":0.56},{"p":7,"g":"HC","i":29,"v":0.35},{"p":7,"g":"HC","i":30,"v":0.61},{"p":7,"g":"HC","i":31,"v":0.44},{"p":7,"g":"HC","i":32,"v":0.52},{"p":7,"g":"HC","i":33,"v":0.31},{"p":7,"g":"HC","i":34,"v":0.59},{"p":7,"g":"HC","i":35,"v":0.46},{"p":7,"g":"HC","i":36,"v":0.39},{"p":7,"g":"HC","i":37,"v":0.54},{"p":7,"g":"HC","i":38,"v":0.27},{"p":7,"g":"HC","i":39,"v":0.8},
{"p":7,"g":"RA","i":26,"v":1.3},{"p":7,"g":"RA","i":27,"v":1},{"p":7,"g":"RA","i":28,"v":1.65},{"p":7,"g":"RA","i":29,"v":0.9},{"p":7,"g":"RA","i":30,"v":1.85},{"p":7,"g":"RA","i":31,"v":1.4},{"p":7,"g":"RA","i":32,"v":1.1},{"p":7,"g":"RA","i":33,"v":1.98},{"p":7,"g":"RA","i":34,"v":1.25},{"p":7,"g":"RA","i":35,"v":1.55},{"p":7,"g":"RA","i":36,"v":0.92},{"p":7,"g":"RA","i":37,"v":2.02},
{"p":8,"g":"HC","i":26,"v":0.56},{"p":8,"g":"HC","i":27,"v":0.5},{"p":8,"g":"HC","i":28,"v":0.66},{"p":8,"g":"HC","i":29,"v":0.49},{"p":8,"g":"HC","i":30,"v":0.61},{"p":8,"g":"HC","i":31,"v":0.54},{"p":8,"g":"HC","i":32,"v":0.7},{"p":8,"g":"HC","i":33,"v":0.45},{"p":8,"g":"HC","i":34,"v":0.59},{"p":8,"g":"HC","i":35,"v":0.52},{"p":8,"g":"HC","i":36,"v":0.64},{"p":8,"g":"HC","i":37,"v":0.38},{"p":8,"g":"HC","i":38,"v":0.69},{"p":8,"g":"HC","i":39,"v":0.9},
{"p":8,"g":"RA","i":26,"v":1.5},{"p":8,"g":"RA","i":27,"v":1.2},{"p":8,"g":"RA","i":28,"v":1.9},{"p":8,"g":"RA","i":29,"v":1.4},{"p":8,"g":"RA","i":30,"v":2.15},{"p":8,"g":"RA","i":31,"v":1.3},{"p":8,"g":"RA","i":32,"v":1.75},{"p":8,"g":"RA","i":33,"v":1.6},{"p":8,"g":"RA","i":34,"v":2.28},{"p":8,"g":"RA","i":35,"v":1.45},{"p":8,"g":"RA","i":36,"v":1.18},{"p":8,"g":"RA","i":37,"v":1.85},
{"p":9,"g":"HC","i":26,"v":0.23},{"p":9,"g":"HC","i":27,"v":0.21},{"p":9,"g":"HC","i":28,"v":0.31},{"p":9,"g":"HC","i":29,"v":0.22},{"p":9,"g":"HC","i":30,"v":0.27},{"p":9,"g":"HC","i":31,"v":0.24},{"p":9,"g":"HC","i":32,"v":0.2},{"p":9,"g":"HC","i":33,"v":0.3},{"p":9,"g":"HC","i":34,"v":0.25},{"p":9,"g":"HC","i":35,"v":0.21},{"p":9,"g":"HC","i":36,"v":0.32},{"p":9,"g":"HC","i":37,"v":0.26},{"p":9,"g":"HC","i":38,"v":0.14},{"p":9,"g":"HC","i":39,"v":0.4},
{"p":9,"g":"RA","i":26,"v":0.68},{"p":9,"g":"RA","i":27,"v":0.56},{"p":9,"g":"RA","i":28,"v":0.77},{"p":9,"g":"RA","i":29,"v":0.62},{"p":9,"g":"RA","i":30,"v":0.72},{"p":9,"g":"RA","i":31,"v":0.53},{"p":9,"g":"RA","i":32,"v":0.78},{"p":9,"g":"RA","i":33,"v":0.65},{"p":9,"g":"RA","i":34,"v":0.59},{"p":9,"g":"RA","i":35,"v":0.74},{"p":9,"g":"RA","i":36,"v":0.67},{"p":9,"g":"RA","i":37,"v":0.98},
{"p":10,"g":"HC","i":26,"v":2.9},{"p":10,"g":"HC","i":27,"v":2.7},{"p":10,"g":"HC","i":28,"v":3.1},{"p":10,"g":"HC","i":29,"v":2.55},{"p":10,"g":"HC","i":30,"v":3.25},{"p":10,"g":"HC","i":31,"v":2.8},{"p":10,"g":"HC","i":32,"v":3},{"p":10,"g":"HC","i":33,"v":2.62},{"p":10,"g":"HC","i":34,"v":3.2},{"p":10,"g":"HC","i":35,"v":2.45},{"p":10,"g":"HC","i":36,"v":3.35},{"p":10,"g":"HC","i":37,"v":2.88},{"p":10,"g":"HC","i":38,"v":4.2},{"p":10,"g":"HC","i":39,"v":2.05},
{"p":10,"g":"RA","i":26,"v":3.8},{"p":10,"g":"RA","i":27,"v":3.45},{"p":10,"g":"RA","i":28,"v":4.05},{"p":10,"g":"RA","i":29,"v":3.75},{"p":10,"g":"RA","i":30,"v":4.25},{"p":10,"g":"RA","i":31,"v":3.55},{"p":10,"g":"RA","i":32,"v":3.95},{"p":10,"g":"RA","i":33,"v":4.4},{"p":10,"g":"RA","i":34,"v":3.6},{"p":10,"g":"RA","i":35,"v":3.9},{"p":10,"g":"RA","i":36,"v":4.15},{"p":10,"g":"RA","i":37,"v":2.9},
{"p":11,"g":"HC","i":26,"v":0.059},{"p":11,"g":"HC","i":27,"v":0.051},{"p":11,"g":"HC","i":28,"v":0.07},{"p":11,"g":"HC","i":29,"v":0.048},{"p":11,"g":"HC","i":30,"v":0.063},{"p":11,"g":"HC","i":31,"v":0.055},{"p":11,"g":"HC","i":32,"v":0.067},{"p":11,"g":"HC","i":33,"v":0.043},{"p":11,"g":"HC","i":34,"v":0.06},{"p":11,"g":"HC","i":35,"v":0.053},{"p":11,"g":"HC","i":36,"v":0.071},{"p":11,"g":"HC","i":37,"v":0.046},{"p":11,"g":"HC","i":38,"v":0.062},{"p":11,"g":"HC","i":39,"v":0.033},
{"p":11,"g":"RA","i":26,"v":0.085},{"p":11,"g":"RA","i":27,"v":0.068},{"p":11,"g":"RA","i":28,"v":0.1},{"p":11,"g":"RA","i":29,"v":0.077},{"p":11,"g":"RA","i":30,"v":0.092},{"p":11,"g":"RA","i":31,"v":0.064},{"p":11,"g":"RA","i":32,"v":0.105},{"p":11,"g":"RA","i":33,"v":0.082},{"p":11,"g":"RA","i":34,"v":0.071},{"p":11,"g":"RA","i":35,"v":0.097},{"p":11,"g":"RA","i":36,"v":0.135},{"p":11,"g":"RA","i":37,"v":0.088},
{"p":12,"g":"HC","i":26,"v":0.6},{"p":12,"g":"HC","i":27,"v":0.52},{"p":12,"g":"HC","i":28,"v":0.72},{"p":12,"g":"HC","i":29,"v":0.46},{"p":12,"g":"HC","i":30,"v":0.65},{"p":12,"g":"HC","i":31,"v":0.56},{"p":12,"g":"HC","i":32,"v":0.77},{"p":12,"g":"HC","i":33,"v":0.49},{"p":12,"g":"HC","i":34,"v":0.62},{"p":12,"g":"HC","i":35,"v":0.58},{"p":12,"g":"HC","i":36,"v":0.7},{"p":12,"g":"HC","i":37,"v":0.43},{"p":12,"g":"HC","i":38,"v":0.85},{"p":12,"g":"HC","i":39,"v":0.33},
{"p":12,"g":"RA","i":26,"v":0.82},{"p":12,"g":"RA","i":27,"v":0.7},{"p":12,"g":"RA","i":28,"v":1.05},{"p":12,"g":"RA","i":29,"v":0.62},{"p":12,"g":"RA","i":30,"v":0.92},{"p":12,"g":"RA","i":31,"v":0.76},{"p":12,"g":"RA","i":32,"v":1.08},{"p":12,"g":"RA","i":33,"v":0.86},{"p":12,"g":"RA","i":34,"v":0.65},{"p":12,"g":"RA","i":35,"v":0.98},{"p":12,"g":"RA","i":36,"v":0.79},{"p":12,"g":"RA","i":37,"v":1.3}
]},
"hconcat":[
{"transform":[{"filter":{"field":"p","oneOf":[1,4,7,10]}}],
 "facet":{"row":{"field":"p","type":"ordinal","title":null,"header":null}},
 "spacing":37,"bounds":"flush",
 "spec":{"width":262,"height":250,"view":{"stroke":"#3a3a3a"},
  "layer":[
   {"transform":[{"filter":"isValid(datum.lo)"}],"mark":{"type":"area","fill":"#d5d5f7","stroke":"#808080","strokeWidth":0.8},
    "encoding":{"x":{"field":"x","type":"quantitative","scale":{"domain":[-0.065,1.065],"nice":false,"zero":false},"axis":{"values":[0,0.1,0.2,0.3,0.4,0.5,0.6,0.7,0.8,0.9,1],"labelExpr":"round(datum.value*10)%2==0 ? format(datum.value,'.1f') : ''","tickOpacity":{"condition":{"test":"round(datum.value*10)%2==1","value":0},"value":1},"grid":true,"gridDash":[2,2],"gridColor":"#cccccc","tickSize":6,"tickColor":"#333","labelFontSize":14,"labelFontWeight":"bold","labelColor":"#222","labelPadding":3,"labelFlush":false,"title":"False positive rate","titleFontSize":22,"titleFontWeight":"bold","titleColor":"#111","titlePadding":8}},
     "y":{"field":"lo","type":"quantitative","scale":{"domain":[-0.043,1.04],"nice":false,"zero":false},"axis":{"values":[0,0.1,0.2,0.3,0.4,0.5,0.6,0.7,0.8,0.9,1],"labelExpr":"round(datum.value*10)%2==0 ? format(datum.value,'.1f') : ''","tickOpacity":{"condition":{"test":"round(datum.value*10)%2==1","value":0},"value":1},"grid":true,"gridDash":[2,2],"gridColor":"#cccccc","tickSize":6,"tickColor":"#333","labelFontSize":13,"labelFontWeight":"bold","labelColor":"#222","labelPadding":2,"labelAngle":270,"labelAlign":"center","labelBaseline":"bottom","title":"True positive rate","titleFontSize":22,"titleFontWeight":"bold","titleColor":"#111","titlePadding":8}},
     "y2":{"field":"hi"}}},
   {"transform":[{"filter":"isValid(datum.auc)"}],"mark":{"type":"rule","color":"#bdbdbd","strokeWidth":1},
    "encoding":{"x":{"datum":-0.043,"type":"quantitative"},"y":{"datum":-0.043,"type":"quantitative"},"x2":{"datum":1.04},"y2":{"datum":1.04}}},
   {"transform":[{"filter":"isValid(datum.y)"}],"mark":{"type":"line","interpolate":"step-after","color":"#20203a","strokeWidth":2},
    "encoding":{"x":{"field":"x","type":"quantitative"},"y":{"field":"y","type":"quantitative"},"order":[{"field":"x","type":"quantitative"},{"field":"y","type":"quantitative"}]}},
   {"transform":[{"filter":"isValid(datum.auc)"}],"mark":{"type":"point","filled":true,"color":"#ff0000","size":30,"opacity":1},
    "encoding":{"x":{"field":"fx","type":"quantitative"},"y":{"field":"fy","type":"quantitative"}}},
   {"transform":[{"filter":"isValid(datum.auc)"}],"mark":{"type":"text","align":"left","baseline":"middle","dx":3,"dy":6,"fontSize":8.5,"color":"#555"},
    "encoding":{"x":{"field":"fx","type":"quantitative"},"y":{"field":"fy","type":"quantitative"},"text":{"field":"lab"}}},
   {"transform":[{"filter":"isValid(datum.auc)"}],"mark":{"type":"text","fontSize":17,"fontWeight":"bold","color":"#1a6fd0","lineBreak":"|","lineHeight":23,"align":"center","baseline":"middle"},
    "encoding":{"x":{"datum":0.62,"type":"quantitative"},"y":{"datum":0.495,"type":"quantitative"},"text":{"field":"auc"}}},
   {"transform":[{"filter":"isValid(datum.auc)"}],"mark":{"type":"text","fontSize":20,"fontWeight":"bold","color":"#f68a3a","lineBreak":"|","lineHeight":22,"align":"center","baseline":"middle"},
    "encoding":{"x":{"datum":0.67,"type":"quantitative"},"y":{"datum":0.11,"type":"quantitative"},"text":{"field":"nm"}}}
  ]}},
{"transform":[{"filter":{"field":"p","oneOf":[1,4,7,10]}}],
 "facet":{"row":{"field":"p","type":"ordinal","title":null,"header":null}},
 "spacing":37,"bounds":"flush",
 "resolve":{"scale":{"y":"independent"},"axis":{"x":"independent","y":"independent"}},
 "spec":{"width":126,"height":250,"view":{"stroke":"#b0b0b0"},
  "layer":[
   {"transform":[{"filter":"isValid(datum.q1)"}],"mark":{"type":"rule","color":"#666","strokeWidth":1},
    "encoding":{"x":{"field":"g","type":"nominal","scale":{"domain":["HC","RA"],"paddingInner":0.25,"paddingOuter":0.225},"axis":{"title":null,"labelAngle":0,"labelFontSize":17,"labelFontWeight":"bold","labelColor":{"condition":{"test":"datum.value=='HC'","value":"#ee1c25"},"value":"#179c48"},"tickSize":4,"tickColor":"#999","grid":true,"gridColor":"#e6e6e6","bandPosition":0.5,"labelPadding":4}},
     "y":{"field":"w1","type":"quantitative","scale":{"zero":false,"nice":false,"padding":10},"axis":{"title":null,"tickCount":4,"labelExpr":"replace(datum.label, ',', '')","labelAngle":270,"labelAlign":"center","labelBaseline":"bottom","labelFontSize":13,"labelFontWeight":"bold","labelColor":"#222","tickSize":4,"tickColor":"#999","grid":true,"gridColor":"#e6e6e6","labelPadding":2}},
     "y2":{"field":"w2"}}},
   {"transform":[{"filter":"isValid(datum.q1)"}],"mark":{"type":"rule","color":"#333","strokeWidth":44.4,"strokeCap":"butt"},
    "encoding":{"x":{"field":"g","type":"nominal"},"y":{"field":"q1","type":"quantitative"},"y2":{"field":"q3"}}},
   {"transform":[{"filter":"isValid(datum.q1)"}],"mark":{"type":"rule","strokeWidth":43,"strokeCap":"butt","opacity":1},
    "encoding":{"x":{"field":"g","type":"nominal"},"y":{"field":"q1","type":"quantitative"},"y2":{"field":"q3"},"color":{"field":"g","type":"nominal","scale":{"domain":["HC","RA"],"range":["#d80049","#139a3e"]},"legend":null}}},
   {"transform":[{"filter":"isValid(datum.q1)"}],"mark":{"type":"tick","orient":"horizontal","size":44.4,"thickness":0.8,"color":"#333"},
    "encoding":{"x":{"field":"g","type":"nominal"},"y":{"field":"q1","type":"quantitative"}}},
   {"transform":[{"filter":"isValid(datum.q1)"}],"mark":{"type":"tick","orient":"horizontal","size":44.4,"thickness":0.8,"color":"#333"},
    "encoding":{"x":{"field":"g","type":"nominal"},"y":{"field":"q3","type":"quantitative"}}},
   {"transform":[{"filter":"isValid(datum.q1)"}],"mark":{"type":"tick","orient":"horizontal","size":43,"thickness":2,"color":"#333"},
    "encoding":{"x":{"field":"g","type":"nominal"},"y":{"field":"md","type":"quantitative"}}},
   {"transform":[{"filter":"isValid(datum.v)"}],"mark":{"type":"point","filled":true,"color":"#000","size":11,"opacity":1},
    "encoding":{"x":{"field":"g","type":"nominal"},"xOffset":{"field":"i","type":"nominal"},"y":{"field":"v","type":"quantitative"}}},
   {"transform":[{"filter":"isValid(datum.q1)"}],"mark":{"type":"point","filled":true,"color":"#ffee00","size":22,"opacity":1},
    "encoding":{"x":{"field":"g","type":"nominal"},"y":{"field":"mn","type":"quantitative"}}},
   {"transform":[{"filter":"isValid(datum.auc)"}],"mark":{"type":"rule","color":"#ff3030","strokeWidth":1.2,"opacity":0.85},
    "encoding":{"y":{"field":"t","type":"quantitative"}}}
  ]}},
{"transform":[{"filter":{"field":"p","oneOf":[2,5,8,11]}}],
 "facet":{"row":{"field":"p","type":"ordinal","title":null,"header":null}},
 "spacing":37,"bounds":"flush",
 "spec":{"width":262,"height":250,"view":{"stroke":"#3a3a3a"},
  "layer":[
   {"transform":[{"filter":"isValid(datum.lo)"}],"mark":{"type":"area","fill":"#d5d5f7","stroke":"#808080","strokeWidth":0.8},
    "encoding":{"x":{"field":"x","type":"quantitative","scale":{"domain":[-0.065,1.065],"nice":false,"zero":false},"axis":{"values":[0,0.1,0.2,0.3,0.4,0.5,0.6,0.7,0.8,0.9,1],"labelExpr":"round(datum.value*10)%2==0 ? format(datum.value,'.1f') : ''","tickOpacity":{"condition":{"test":"round(datum.value*10)%2==1","value":0},"value":1},"grid":true,"gridDash":[2,2],"gridColor":"#cccccc","tickSize":6,"tickColor":"#333","labelFontSize":14,"labelFontWeight":"bold","labelColor":"#222","labelPadding":3,"labelFlush":false,"title":"False positive rate","titleFontSize":22,"titleFontWeight":"bold","titleColor":"#111","titlePadding":8}},
     "y":{"field":"lo","type":"quantitative","scale":{"domain":[-0.043,1.04],"nice":false,"zero":false},"axis":{"values":[0,0.1,0.2,0.3,0.4,0.5,0.6,0.7,0.8,0.9,1],"labels":false,"tickOpacity":{"condition":{"test":"round(datum.value*10)%2==1","value":0},"value":1},"grid":true,"gridDash":[2,2],"gridColor":"#cccccc","tickSize":6,"tickColor":"#333","title":null}},
     "y2":{"field":"hi"}}},
   {"transform":[{"filter":"isValid(datum.auc)"}],"mark":{"type":"rule","color":"#bdbdbd","strokeWidth":1},
    "encoding":{"x":{"datum":-0.043,"type":"quantitative"},"y":{"datum":-0.043,"type":"quantitative"},"x2":{"datum":1.04},"y2":{"datum":1.04}}},
   {"transform":[{"filter":"isValid(datum.y)"}],"mark":{"type":"line","interpolate":"step-after","color":"#20203a","strokeWidth":2},
    "encoding":{"x":{"field":"x","type":"quantitative"},"y":{"field":"y","type":"quantitative"},"order":[{"field":"x","type":"quantitative"},{"field":"y","type":"quantitative"}]}},
   {"transform":[{"filter":"isValid(datum.auc)"}],"mark":{"type":"point","filled":true,"color":"#ff0000","size":30,"opacity":1},
    "encoding":{"x":{"field":"fx","type":"quantitative"},"y":{"field":"fy","type":"quantitative"}}},
   {"transform":[{"filter":"isValid(datum.auc)"}],"mark":{"type":"text","align":"left","baseline":"middle","dx":3,"dy":6,"fontSize":8.5,"color":"#555"},
    "encoding":{"x":{"field":"fx","type":"quantitative"},"y":{"field":"fy","type":"quantitative"},"text":{"field":"lab"}}},
   {"transform":[{"filter":"isValid(datum.auc)"}],"mark":{"type":"text","fontSize":17,"fontWeight":"bold","color":"#1a6fd0","lineBreak":"|","lineHeight":23,"align":"center","baseline":"middle"},
    "encoding":{"x":{"datum":0.62,"type":"quantitative"},"y":{"datum":0.495,"type":"quantitative"},"text":{"field":"auc"}}},
   {"transform":[{"filter":"isValid(datum.auc)"}],"mark":{"type":"text","fontSize":20,"fontWeight":"bold","color":"#f68a3a","lineBreak":"|","lineHeight":22,"align":"center","baseline":"middle"},
    "encoding":{"x":{"datum":0.67,"type":"quantitative"},"y":{"datum":0.11,"type":"quantitative"},"text":{"field":"nm"}}}
  ]}},
{"transform":[{"filter":{"field":"p","oneOf":[2,5,8,11]}}],
 "facet":{"row":{"field":"p","type":"ordinal","title":null,"header":null}},
 "spacing":37,"bounds":"flush",
 "resolve":{"scale":{"y":"independent"},"axis":{"x":"independent","y":"independent"}},
 "spec":{"width":126,"height":250,"view":{"stroke":"#b0b0b0"},
  "layer":[
   {"transform":[{"filter":"isValid(datum.q1)"}],"mark":{"type":"rule","color":"#666","strokeWidth":1},
    "encoding":{"x":{"field":"g","type":"nominal","scale":{"domain":["HC","RA"],"paddingInner":0.25,"paddingOuter":0.225},"axis":{"title":null,"labelAngle":0,"labelFontSize":17,"labelFontWeight":"bold","labelColor":{"condition":{"test":"datum.value=='HC'","value":"#ee1c25"},"value":"#179c48"},"tickSize":4,"tickColor":"#999","grid":true,"gridColor":"#e6e6e6","bandPosition":0.5,"labelPadding":4}},
     "y":{"field":"w1","type":"quantitative","scale":{"zero":false,"nice":false,"padding":10},"axis":{"title":null,"tickCount":4,"labelExpr":"replace(datum.label, ',', '')","labelAngle":270,"labelAlign":"center","labelBaseline":"bottom","labelFontSize":13,"labelFontWeight":"bold","labelColor":"#222","tickSize":4,"tickColor":"#999","grid":true,"gridColor":"#e6e6e6","labelPadding":2}},
     "y2":{"field":"w2"}}},
   {"transform":[{"filter":"isValid(datum.q1)"}],"mark":{"type":"rule","color":"#333","strokeWidth":44.4,"strokeCap":"butt"},
    "encoding":{"x":{"field":"g","type":"nominal"},"y":{"field":"q1","type":"quantitative"},"y2":{"field":"q3"}}},
   {"transform":[{"filter":"isValid(datum.q1)"}],"mark":{"type":"rule","strokeWidth":43,"strokeCap":"butt","opacity":1},
    "encoding":{"x":{"field":"g","type":"nominal"},"y":{"field":"q1","type":"quantitative"},"y2":{"field":"q3"},"color":{"field":"g","type":"nominal","scale":{"domain":["HC","RA"],"range":["#d80049","#139a3e"]},"legend":null}}},
   {"transform":[{"filter":"isValid(datum.q1)"}],"mark":{"type":"tick","orient":"horizontal","size":44.4,"thickness":0.8,"color":"#333"},
    "encoding":{"x":{"field":"g","type":"nominal"},"y":{"field":"q1","type":"quantitative"}}},
   {"transform":[{"filter":"isValid(datum.q1)"}],"mark":{"type":"tick","orient":"horizontal","size":44.4,"thickness":0.8,"color":"#333"},
    "encoding":{"x":{"field":"g","type":"nominal"},"y":{"field":"q3","type":"quantitative"}}},
   {"transform":[{"filter":"isValid(datum.q1)"}],"mark":{"type":"tick","orient":"horizontal","size":43,"thickness":2,"color":"#333"},
    "encoding":{"x":{"field":"g","type":"nominal"},"y":{"field":"md","type":"quantitative"}}},
   {"transform":[{"filter":"isValid(datum.v)"}],"mark":{"type":"point","filled":true,"color":"#000","size":11,"opacity":1},
    "encoding":{"x":{"field":"g","type":"nominal"},"xOffset":{"field":"i","type":"nominal"},"y":{"field":"v","type":"quantitative"}}},
   {"transform":[{"filter":"isValid(datum.q1)"}],"mark":{"type":"point","filled":true,"color":"#ffee00","size":22,"opacity":1},
    "encoding":{"x":{"field":"g","type":"nominal"},"y":{"field":"mn","type":"quantitative"}}},
   {"transform":[{"filter":"isValid(datum.auc)"}],"mark":{"type":"rule","color":"#ff3030","strokeWidth":1.2,"opacity":0.85},
    "encoding":{"y":{"field":"t","type":"quantitative"}}}
  ]}},
{"transform":[{"filter":{"field":"p","oneOf":[3,6,9,12]}}],
 "facet":{"row":{"field":"p","type":"ordinal","title":null,"header":null}},
 "spacing":37,"bounds":"flush",
 "spec":{"width":262,"height":250,"view":{"stroke":"#3a3a3a"},
  "layer":[
   {"transform":[{"filter":"isValid(datum.lo)"}],"mark":{"type":"area","fill":"#d5d5f7","stroke":"#808080","strokeWidth":0.8},
    "encoding":{"x":{"field":"x","type":"quantitative","scale":{"domain":[-0.065,1.065],"nice":false,"zero":false},"axis":{"values":[0,0.1,0.2,0.3,0.4,0.5,0.6,0.7,0.8,0.9,1],"labelExpr":"round(datum.value*10)%2==0 ? format(datum.value,'.1f') : ''","tickOpacity":{"condition":{"test":"round(datum.value*10)%2==1","value":0},"value":1},"grid":true,"gridDash":[2,2],"gridColor":"#cccccc","tickSize":6,"tickColor":"#333","labelFontSize":14,"labelFontWeight":"bold","labelColor":"#222","labelPadding":3,"labelFlush":false,"title":"False positive rate","titleFontSize":22,"titleFontWeight":"bold","titleColor":"#111","titlePadding":8}},
     "y":{"field":"lo","type":"quantitative","scale":{"domain":[-0.043,1.04],"nice":false,"zero":false},"axis":{"values":[0,0.1,0.2,0.3,0.4,0.5,0.6,0.7,0.8,0.9,1],"labels":false,"tickOpacity":{"condition":{"test":"round(datum.value*10)%2==1","value":0},"value":1},"grid":true,"gridDash":[2,2],"gridColor":"#cccccc","tickSize":6,"tickColor":"#333","title":null}},
     "y2":{"field":"hi"}}},
   {"transform":[{"filter":"isValid(datum.auc)"}],"mark":{"type":"rule","color":"#bdbdbd","strokeWidth":1},
    "encoding":{"x":{"datum":-0.043,"type":"quantitative"},"y":{"datum":-0.043,"type":"quantitative"},"x2":{"datum":1.04},"y2":{"datum":1.04}}},
   {"transform":[{"filter":"isValid(datum.y)"}],"mark":{"type":"line","interpolate":"step-after","color":"#20203a","strokeWidth":2},
    "encoding":{"x":{"field":"x","type":"quantitative"},"y":{"field":"y","type":"quantitative"},"order":[{"field":"x","type":"quantitative"},{"field":"y","type":"quantitative"}]}},
   {"transform":[{"filter":"isValid(datum.auc)"}],"mark":{"type":"point","filled":true,"color":"#ff0000","size":30,"opacity":1},
    "encoding":{"x":{"field":"fx","type":"quantitative"},"y":{"field":"fy","type":"quantitative"}}},
   {"transform":[{"filter":"isValid(datum.auc)"}],"mark":{"type":"text","align":"left","baseline":"middle","dx":3,"dy":6,"fontSize":8.5,"color":"#555"},
    "encoding":{"x":{"field":"fx","type":"quantitative"},"y":{"field":"fy","type":"quantitative"},"text":{"field":"lab"}}},
   {"transform":[{"filter":"isValid(datum.auc)"}],"mark":{"type":"text","fontSize":17,"fontWeight":"bold","color":"#1a6fd0","lineBreak":"|","lineHeight":23,"align":"center","baseline":"middle"},
    "encoding":{"x":{"datum":0.62,"type":"quantitative"},"y":{"datum":0.495,"type":"quantitative"},"text":{"field":"auc"}}},
   {"transform":[{"filter":"isValid(datum.auc)"}],"mark":{"type":"text","fontSize":20,"fontWeight":"bold","color":"#f68a3a","lineBreak":"|","lineHeight":22,"align":"center","baseline":"middle"},
    "encoding":{"x":{"datum":0.67,"type":"quantitative"},"y":{"datum":0.11,"type":"quantitative"},"text":{"field":"nm"}}}
  ]}},
{"transform":[{"filter":{"field":"p","oneOf":[3,6,9,12]}}],
 "facet":{"row":{"field":"p","type":"ordinal","title":null,"header":null}},
 "spacing":37,"bounds":"flush",
 "resolve":{"scale":{"y":"independent"},"axis":{"x":"independent","y":"independent"}},
 "spec":{"width":126,"height":250,"view":{"stroke":"#b0b0b0"},
  "layer":[
   {"transform":[{"filter":"isValid(datum.q1)"}],"mark":{"type":"rule","color":"#666","strokeWidth":1},
    "encoding":{"x":{"field":"g","type":"nominal","scale":{"domain":["HC","RA"],"paddingInner":0.25,"paddingOuter":0.225},"axis":{"title":null,"labelAngle":0,"labelFontSize":17,"labelFontWeight":"bold","labelColor":{"condition":{"test":"datum.value=='HC'","value":"#ee1c25"},"value":"#179c48"},"tickSize":4,"tickColor":"#999","grid":true,"gridColor":"#e6e6e6","bandPosition":0.5,"labelPadding":4}},
     "y":{"field":"w1","type":"quantitative","scale":{"zero":false,"nice":false,"padding":10},"axis":{"title":null,"tickCount":4,"labelExpr":"replace(datum.label, ',', '')","labelAngle":270,"labelAlign":"center","labelBaseline":"bottom","labelFontSize":13,"labelFontWeight":"bold","labelColor":"#222","tickSize":4,"tickColor":"#999","grid":true,"gridColor":"#e6e6e6","labelPadding":2}},
     "y2":{"field":"w2"}}},
   {"transform":[{"filter":"isValid(datum.q1)"}],"mark":{"type":"rule","color":"#333","strokeWidth":44.4,"strokeCap":"butt"},
    "encoding":{"x":{"field":"g","type":"nominal"},"y":{"field":"q1","type":"quantitative"},"y2":{"field":"q3"}}},
   {"transform":[{"filter":"isValid(datum.q1)"}],"mark":{"type":"rule","strokeWidth":43,"strokeCap":"butt","opacity":1},
    "encoding":{"x":{"field":"g","type":"nominal"},"y":{"field":"q1","type":"quantitative"},"y2":{"field":"q3"},"color":{"field":"g","type":"nominal","scale":{"domain":["HC","RA"],"range":["#d80049","#139a3e"]},"legend":null}}},
   {"transform":[{"filter":"isValid(datum.q1)"}],"mark":{"type":"tick","orient":"horizontal","size":44.4,"thickness":0.8,"color":"#333"},
    "encoding":{"x":{"field":"g","type":"nominal"},"y":{"field":"q1","type":"quantitative"}}},
   {"transform":[{"filter":"isValid(datum.q1)"}],"mark":{"type":"tick","orient":"horizontal","size":44.4,"thickness":0.8,"color":"#333"},
    "encoding":{"x":{"field":"g","type":"nominal"},"y":{"field":"q3","type":"quantitative"}}},
   {"transform":[{"filter":"isValid(datum.q1)"}],"mark":{"type":"tick","orient":"horizontal","size":43,"thickness":2,"color":"#333"},
    "encoding":{"x":{"field":"g","type":"nominal"},"y":{"field":"md","type":"quantitative"}}},
   {"transform":[{"filter":"isValid(datum.v)"}],"mark":{"type":"point","filled":true,"color":"#000","size":11,"opacity":1},
    "encoding":{"x":{"field":"g","type":"nominal"},"xOffset":{"field":"i","type":"nominal"},"y":{"field":"v","type":"quantitative"}}},
   {"transform":[{"filter":"isValid(datum.q1)"}],"mark":{"type":"point","filled":true,"color":"#ffee00","size":22,"opacity":1},
    "encoding":{"x":{"field":"g","type":"nominal"},"y":{"field":"mn","type":"quantitative"}}},
   {"transform":[{"filter":"isValid(datum.auc)"}],"mark":{"type":"rule","color":"#ff3030","strokeWidth":1.2,"opacity":0.85},
    "encoding":{"y":{"field":"t","type":"quantitative"}}}
  ]}}
]
}
